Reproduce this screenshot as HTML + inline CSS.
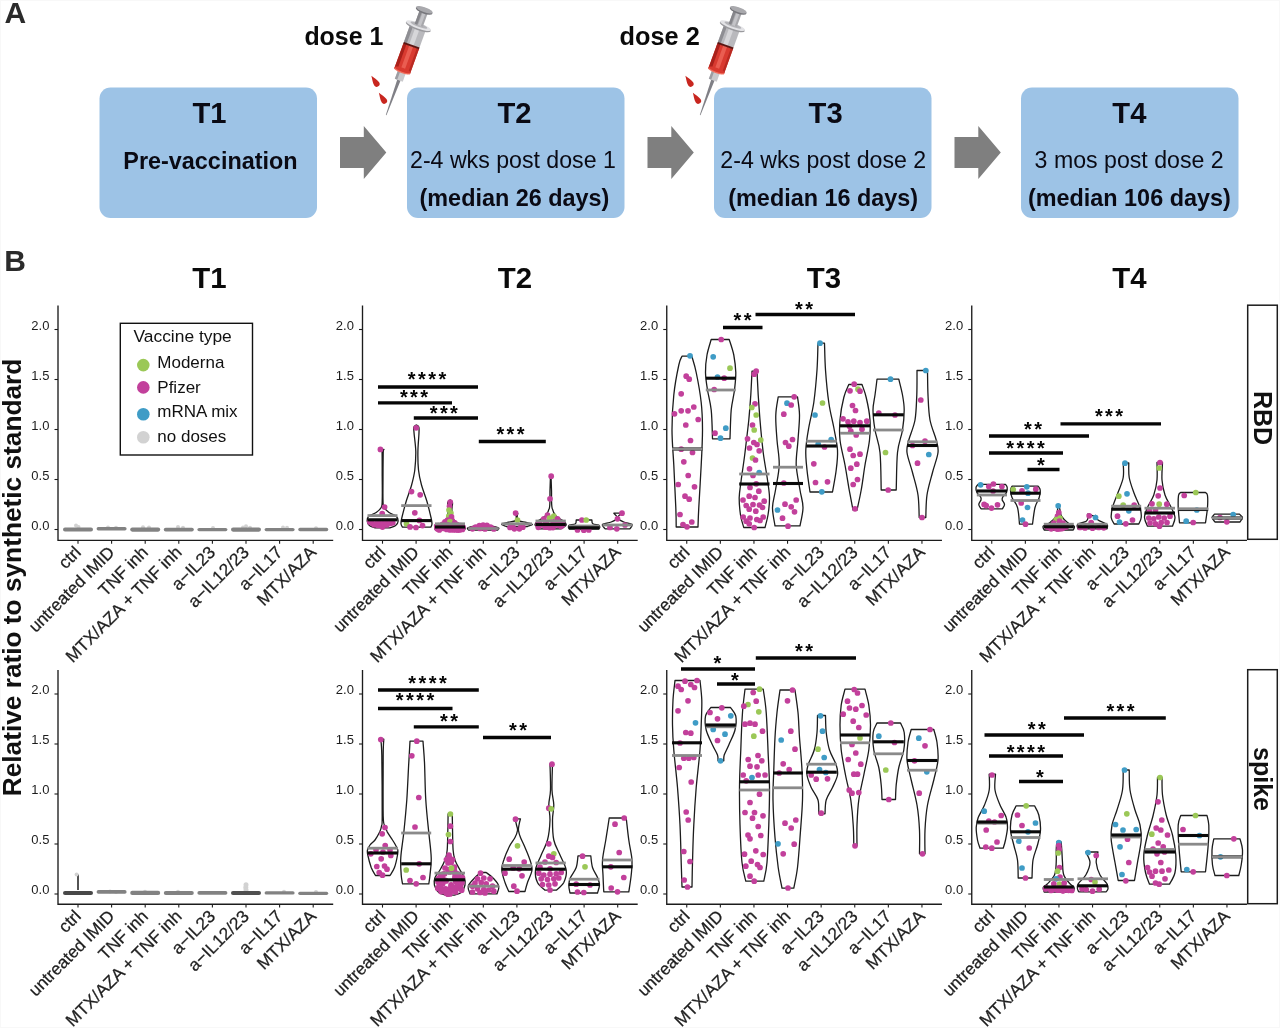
<!DOCTYPE html>
<html lang="en"><head><meta charset="utf-8"><title>Figure</title>
<style>
html,body{margin:0;padding:0;background:#fff;}
body{width:1280px;height:1028px;overflow:hidden;}
svg{display:block;font-family:"Liberation Sans", Arial, Helvetica, sans-serif;}
</style></head><body>
<svg width="1280" height="1028" viewBox="0 0 1280 1028">
<rect width="1280" height="1028" fill="#fff"/>
<rect x="0.5" y="0.5" width="1279" height="1027" fill="none" stroke="#f8f8f8"/>
<g id="panelA">
<text x="4.4" y="23.4" font-size="30" font-weight="bold" fill="#2b2b2b">A</text>
<rect x="99.5" y="87.5" width="217.5" height="130.5" rx="11" ry="11" fill="#9dc3e6"/>
<text x="209.45" y="123" font-size="29.2" font-weight="bold" text-anchor="middle" fill="#0a0a14">T1</text>
<text x="210.45" y="168.5" font-size="23.4" font-weight="bold" text-anchor="middle" fill="#0a0a14">Pre-vaccination</text>
<rect x="407" y="87.5" width="217.5" height="130.5" rx="11" ry="11" fill="#9dc3e6"/>
<text x="514.45" y="123" font-size="29.2" font-weight="bold" text-anchor="middle" fill="#0a0a14">T2</text>
<text x="512.95" y="168.3" font-size="23.15" text-anchor="middle" fill="#0a0a14">2-4 wks post dose 1</text>
<text x="514.45" y="205.5" font-size="23.4" font-weight="bold" text-anchor="middle" fill="#0a0a14">(median 26 days)</text>
<rect x="714" y="87.5" width="217.5" height="130.5" rx="11" ry="11" fill="#9dc3e6"/>
<text x="825.65" y="123" font-size="29.2" font-weight="bold" text-anchor="middle" fill="#0a0a14">T3</text>
<text x="823.25" y="168.3" font-size="23.15" text-anchor="middle" fill="#0a0a14">2-4 wks post dose 2</text>
<text x="823.2" y="205.5" font-size="23.4" font-weight="bold" text-anchor="middle" fill="#0a0a14">(median 16 days)</text>
<rect x="1021" y="87.5" width="217.5" height="130.5" rx="11" ry="11" fill="#9dc3e6"/>
<text x="1129.35" y="123" font-size="29.2" font-weight="bold" text-anchor="middle" fill="#0a0a14">T4</text>
<text x="1129.15" y="168.3" font-size="23.15" text-anchor="middle" fill="#0a0a14">3 mos post dose 2</text>
<text x="1129.35" y="205.5" font-size="23.4" font-weight="bold" text-anchor="middle" fill="#0a0a14">(median 106 days)</text>
<path d="M340,137 h23.8 v-11 l22.5,26.5 l-22.5,26.5 v-11 h-23.8 z" fill="#7f7f7f"/>
<path d="M647.5,137 h23.8 v-11 l22.5,26.5 l-22.5,26.5 v-11 h-23.8 z" fill="#7f7f7f"/>
<path d="M954.5,137 h23.8 v-11 l22.5,26.5 l-22.5,26.5 v-11 h-23.8 z" fill="#7f7f7f"/>
<text x="304.4" y="45" font-size="24.9" font-weight="bold" fill="#0a0a0a">dose 1</text>
<text x="619.6" y="45" font-size="25.3" font-weight="bold" fill="#0a0a0a">dose 2</text>
<g transform="translate(386.3,114.6) rotate(20)"><path d="M-0.35,0.5 L-1.7,-37 L1.7,-37 L0.35,0.5 Z" fill="#808086"/><rect x="-4.2" y="-45" width="8.4" height="8.5" fill="#c9c9cc"/><rect x="-4.2" y="-45" width="2.5" height="8.5" fill="#9d9da2"/><rect x="-8.3" y="-73" width="16.6" height="27" fill="#d93a30"/><rect x="-8.3" y="-73" width="3.2" height="27" fill="#a9211b"/><rect x="-2" y="-73" width="4" height="27" fill="#ef6a5c" opacity="0.75"/><rect x="6" y="-73" width="2.3" height="27" fill="#b92a22"/><ellipse cx="0" cy="-46.5" rx="8.6" ry="2.3" fill="#f0705f"/><ellipse cx="0" cy="-47.6" rx="8.3" ry="1.9" fill="#d93a30"/><rect x="-8.3" y="-93" width="16.6" height="20" fill="#b9b9bd"/><rect x="-8.3" y="-93" width="3.2" height="20" fill="#8e8e93"/><rect x="-2.5" y="-93" width="4.5" height="20" fill="#d6d6d9"/><rect x="-8.3" y="-74.3" width="16.6" height="1.8" fill="#5d1511"/><ellipse cx="0" cy="-93.5" rx="13.2" ry="3.4" fill="#9a9a9e"/><ellipse cx="0" cy="-94.6" rx="13.2" ry="3" fill="#e3e3e6"/><ellipse cx="0" cy="-95.2" rx="9" ry="1.8" fill="#b4b4b8"/><rect x="-4.3" y="-110" width="8.6" height="15" fill="#a8a8ac"/><rect x="-4.3" y="-110" width="2.6" height="15" fill="#86868b"/><rect x="-0.8" y="-110" width="3" height="15" fill="#c4c4c8"/><ellipse cx="0" cy="-110.5" rx="8.8" ry="2.9" fill="#77777c"/><ellipse cx="0" cy="-111.6" rx="8.8" ry="2.5" fill="#a9a9ad"/></g><path transform="translate(374.90000000000003,81.1) rotate(-33)" d="M0,-6.5 C0.9,-3.4 2.9,0 2.9,3.3 A2.9,2.9 0 0 1 -2.9,3.3 C-2.9,0 -0.9,-3.4 0,-6.5 Z" fill="#c8261f"/><path transform="translate(382.40000000000003,98.1) rotate(-33)" d="M0,-6.5 C0.9,-3.4 2.9,0 2.9,3.3 A2.9,2.9 0 0 1 -2.9,3.3 C-2.9,0 -0.9,-3.4 0,-6.5 Z" fill="#c8261f"/>
<g transform="translate(700.3,114.6) rotate(20)"><path d="M-0.35,0.5 L-1.7,-37 L1.7,-37 L0.35,0.5 Z" fill="#808086"/><rect x="-4.2" y="-45" width="8.4" height="8.5" fill="#c9c9cc"/><rect x="-4.2" y="-45" width="2.5" height="8.5" fill="#9d9da2"/><rect x="-8.3" y="-73" width="16.6" height="27" fill="#d93a30"/><rect x="-8.3" y="-73" width="3.2" height="27" fill="#a9211b"/><rect x="-2" y="-73" width="4" height="27" fill="#ef6a5c" opacity="0.75"/><rect x="6" y="-73" width="2.3" height="27" fill="#b92a22"/><ellipse cx="0" cy="-46.5" rx="8.6" ry="2.3" fill="#f0705f"/><ellipse cx="0" cy="-47.6" rx="8.3" ry="1.9" fill="#d93a30"/><rect x="-8.3" y="-93" width="16.6" height="20" fill="#b9b9bd"/><rect x="-8.3" y="-93" width="3.2" height="20" fill="#8e8e93"/><rect x="-2.5" y="-93" width="4.5" height="20" fill="#d6d6d9"/><rect x="-8.3" y="-74.3" width="16.6" height="1.8" fill="#5d1511"/><ellipse cx="0" cy="-93.5" rx="13.2" ry="3.4" fill="#9a9a9e"/><ellipse cx="0" cy="-94.6" rx="13.2" ry="3" fill="#e3e3e6"/><ellipse cx="0" cy="-95.2" rx="9" ry="1.8" fill="#b4b4b8"/><rect x="-4.3" y="-110" width="8.6" height="15" fill="#a8a8ac"/><rect x="-4.3" y="-110" width="2.6" height="15" fill="#86868b"/><rect x="-0.8" y="-110" width="3" height="15" fill="#c4c4c8"/><ellipse cx="0" cy="-110.5" rx="8.8" ry="2.9" fill="#77777c"/><ellipse cx="0" cy="-111.6" rx="8.8" ry="2.5" fill="#a9a9ad"/></g><path transform="translate(688.9,81.1) rotate(-33)" d="M0,-6.5 C0.9,-3.4 2.9,0 2.9,3.3 A2.9,2.9 0 0 1 -2.9,3.3 C-2.9,0 -0.9,-3.4 0,-6.5 Z" fill="#c8261f"/><path transform="translate(696.4,98.1) rotate(-33)" d="M0,-6.5 C0.9,-3.4 2.9,0 2.9,3.3 A2.9,2.9 0 0 1 -2.9,3.3 C-2.9,0 -0.9,-3.4 0,-6.5 Z" fill="#c8261f"/>
</g>
<g id="panelB">
<text x="4.2" y="271.3" font-size="30" font-weight="bold" fill="#2b2b2b">B</text>
<text transform="translate(21,577.5) rotate(-90)" font-size="26.25" font-weight="bold" text-anchor="middle" fill="#111">Relative ratio to synthetic standard</text>
<text x="209.5" y="287.5" font-size="29.4" font-weight="bold" text-anchor="middle" fill="#0a0a0a">T1</text>
<text x="515" y="287.5" font-size="29.4" font-weight="bold" text-anchor="middle" fill="#0a0a0a">T2</text>
<text x="824" y="287.5" font-size="29.4" font-weight="bold" text-anchor="middle" fill="#0a0a0a">T3</text>
<text x="1129.5" y="287.5" font-size="29.4" font-weight="bold" text-anchor="middle" fill="#0a0a0a">T4</text>
<path d="M58,305.5 V540.3 H333.2" fill="none" stroke="#1c1c1c" stroke-width="1.35"/>
<path d="M54.5,529.5 H58" stroke="#1c1c1c" stroke-width="1.1"/>
<text x="49.4" y="530.0" font-size="13" text-anchor="end" fill="#1c1c1c">0.0</text>
<path d="M54.5,479.5 H58" stroke="#1c1c1c" stroke-width="1.1"/>
<text x="49.4" y="480.0" font-size="13" text-anchor="end" fill="#1c1c1c">0.5</text>
<path d="M54.5,429.5 H58" stroke="#1c1c1c" stroke-width="1.1"/>
<text x="49.4" y="430.0" font-size="13" text-anchor="end" fill="#1c1c1c">1.0</text>
<path d="M54.5,379.5 H58" stroke="#1c1c1c" stroke-width="1.1"/>
<text x="49.4" y="380.0" font-size="13" text-anchor="end" fill="#1c1c1c">1.5</text>
<path d="M54.5,329.5 H58" stroke="#1c1c1c" stroke-width="1.1"/>
<text x="49.4" y="330.0" font-size="13" text-anchor="end" fill="#1c1c1c">2.0</text>
<path d="M78.0,540.3 v3.4" stroke="#1c1c1c" stroke-width="1.1"/>
<text transform="translate(82.0,553.4) rotate(-45)" stroke="#1f1f1f" stroke-width="0.25" font-size="17.4" text-anchor="end" fill="#1f1f1f">ctrl</text>
<path d="M111.6,540.3 v3.4" stroke="#1c1c1c" stroke-width="1.1"/>
<text transform="translate(115.6,553.4) rotate(-45)" stroke="#1f1f1f" stroke-width="0.25" font-size="17.1" text-anchor="end" fill="#1f1f1f">untreated IMID</text>
<path d="M145.2,540.3 v3.4" stroke="#1c1c1c" stroke-width="1.1"/>
<text transform="translate(149.2,553.4) rotate(-45)" stroke="#1f1f1f" stroke-width="0.25" font-size="17.4" text-anchor="end" fill="#1f1f1f">TNF inh</text>
<path d="M178.8,540.3 v3.4" stroke="#1c1c1c" stroke-width="1.1"/>
<text transform="translate(182.8,553.4) rotate(-45)" stroke="#1f1f1f" stroke-width="0.25" font-size="17.4" text-anchor="end" fill="#1f1f1f">MTX/AZA + TNF inh</text>
<path d="M212.4,540.3 v3.4" stroke="#1c1c1c" stroke-width="1.1"/>
<text transform="translate(216.4,553.4) rotate(-45)" stroke="#1f1f1f" stroke-width="0.25" font-size="17.4" text-anchor="end" fill="#1f1f1f">a−IL23</text>
<path d="M246.0,540.3 v3.4" stroke="#1c1c1c" stroke-width="1.1"/>
<text transform="translate(250.0,553.4) rotate(-45)" stroke="#1f1f1f" stroke-width="0.25" font-size="17.4" text-anchor="end" fill="#1f1f1f">a−IL12/23</text>
<path d="M279.6,540.3 v3.4" stroke="#1c1c1c" stroke-width="1.1"/>
<text transform="translate(283.6,553.4) rotate(-45)" stroke="#1f1f1f" stroke-width="0.25" font-size="17.4" text-anchor="end" fill="#1f1f1f">a−IL17</text>
<path d="M313.20000000000005,540.3 v3.4" stroke="#1c1c1c" stroke-width="1.1"/>
<text transform="translate(317.20000000000005,553.4) rotate(-45)" stroke="#1f1f1f" stroke-width="0.25" font-size="17.4" text-anchor="end" fill="#1f1f1f">MTX/AZA</text>
<path d="M58,670 V904.2 H333.2" fill="none" stroke="#1c1c1c" stroke-width="1.35"/>
<path d="M54.5,894 H58" stroke="#1c1c1c" stroke-width="1.1"/>
<text x="49.4" y="893.5" font-size="13" text-anchor="end" fill="#1c1c1c">0.0</text>
<path d="M54.5,844 H58" stroke="#1c1c1c" stroke-width="1.1"/>
<text x="49.4" y="843.5" font-size="13" text-anchor="end" fill="#1c1c1c">0.5</text>
<path d="M54.5,794 H58" stroke="#1c1c1c" stroke-width="1.1"/>
<text x="49.4" y="793.5" font-size="13" text-anchor="end" fill="#1c1c1c">1.0</text>
<path d="M54.5,744 H58" stroke="#1c1c1c" stroke-width="1.1"/>
<text x="49.4" y="743.5" font-size="13" text-anchor="end" fill="#1c1c1c">1.5</text>
<path d="M54.5,694 H58" stroke="#1c1c1c" stroke-width="1.1"/>
<text x="49.4" y="693.5" font-size="13" text-anchor="end" fill="#1c1c1c">2.0</text>
<path d="M78.0,904.2 v3.4" stroke="#1c1c1c" stroke-width="1.1"/>
<text transform="translate(82.0,917.3000000000001) rotate(-45)" stroke="#1f1f1f" stroke-width="0.25" font-size="17.4" text-anchor="end" fill="#1f1f1f">ctrl</text>
<path d="M111.6,904.2 v3.4" stroke="#1c1c1c" stroke-width="1.1"/>
<text transform="translate(115.6,917.3000000000001) rotate(-45)" stroke="#1f1f1f" stroke-width="0.25" font-size="17.1" text-anchor="end" fill="#1f1f1f">untreated IMID</text>
<path d="M145.2,904.2 v3.4" stroke="#1c1c1c" stroke-width="1.1"/>
<text transform="translate(149.2,917.3000000000001) rotate(-45)" stroke="#1f1f1f" stroke-width="0.25" font-size="17.4" text-anchor="end" fill="#1f1f1f">TNF inh</text>
<path d="M178.8,904.2 v3.4" stroke="#1c1c1c" stroke-width="1.1"/>
<text transform="translate(182.8,917.3000000000001) rotate(-45)" stroke="#1f1f1f" stroke-width="0.25" font-size="17.4" text-anchor="end" fill="#1f1f1f">MTX/AZA + TNF inh</text>
<path d="M212.4,904.2 v3.4" stroke="#1c1c1c" stroke-width="1.1"/>
<text transform="translate(216.4,917.3000000000001) rotate(-45)" stroke="#1f1f1f" stroke-width="0.25" font-size="17.4" text-anchor="end" fill="#1f1f1f">a−IL23</text>
<path d="M246.0,904.2 v3.4" stroke="#1c1c1c" stroke-width="1.1"/>
<text transform="translate(250.0,917.3000000000001) rotate(-45)" stroke="#1f1f1f" stroke-width="0.25" font-size="17.4" text-anchor="end" fill="#1f1f1f">a−IL12/23</text>
<path d="M279.6,904.2 v3.4" stroke="#1c1c1c" stroke-width="1.1"/>
<text transform="translate(283.6,917.3000000000001) rotate(-45)" stroke="#1f1f1f" stroke-width="0.25" font-size="17.4" text-anchor="end" fill="#1f1f1f">a−IL17</text>
<path d="M313.20000000000005,904.2 v3.4" stroke="#1c1c1c" stroke-width="1.1"/>
<text transform="translate(317.20000000000005,917.3000000000001) rotate(-45)" stroke="#1f1f1f" stroke-width="0.25" font-size="17.4" text-anchor="end" fill="#1f1f1f">MTX/AZA</text>
<path d="M362.5,305.5 V540.3 H637.7" fill="none" stroke="#1c1c1c" stroke-width="1.35"/>
<path d="M359.0,529.5 H362.5" stroke="#1c1c1c" stroke-width="1.1"/>
<text x="353.9" y="530.0" font-size="13" text-anchor="end" fill="#1c1c1c">0.0</text>
<path d="M359.0,479.5 H362.5" stroke="#1c1c1c" stroke-width="1.1"/>
<text x="353.9" y="480.0" font-size="13" text-anchor="end" fill="#1c1c1c">0.5</text>
<path d="M359.0,429.5 H362.5" stroke="#1c1c1c" stroke-width="1.1"/>
<text x="353.9" y="430.0" font-size="13" text-anchor="end" fill="#1c1c1c">1.0</text>
<path d="M359.0,379.5 H362.5" stroke="#1c1c1c" stroke-width="1.1"/>
<text x="353.9" y="380.0" font-size="13" text-anchor="end" fill="#1c1c1c">1.5</text>
<path d="M359.0,329.5 H362.5" stroke="#1c1c1c" stroke-width="1.1"/>
<text x="353.9" y="330.0" font-size="13" text-anchor="end" fill="#1c1c1c">2.0</text>
<path d="M382.5,540.3 v3.4" stroke="#1c1c1c" stroke-width="1.1"/>
<text transform="translate(386.5,553.4) rotate(-45)" stroke="#1f1f1f" stroke-width="0.25" font-size="17.4" text-anchor="end" fill="#1f1f1f">ctrl</text>
<path d="M416.1,540.3 v3.4" stroke="#1c1c1c" stroke-width="1.1"/>
<text transform="translate(420.1,553.4) rotate(-45)" stroke="#1f1f1f" stroke-width="0.25" font-size="17.1" text-anchor="end" fill="#1f1f1f">untreated IMID</text>
<path d="M449.7,540.3 v3.4" stroke="#1c1c1c" stroke-width="1.1"/>
<text transform="translate(453.7,553.4) rotate(-45)" stroke="#1f1f1f" stroke-width="0.25" font-size="17.4" text-anchor="end" fill="#1f1f1f">TNF inh</text>
<path d="M483.3,540.3 v3.4" stroke="#1c1c1c" stroke-width="1.1"/>
<text transform="translate(487.3,553.4) rotate(-45)" stroke="#1f1f1f" stroke-width="0.25" font-size="17.4" text-anchor="end" fill="#1f1f1f">MTX/AZA + TNF inh</text>
<path d="M516.9,540.3 v3.4" stroke="#1c1c1c" stroke-width="1.1"/>
<text transform="translate(520.9,553.4) rotate(-45)" stroke="#1f1f1f" stroke-width="0.25" font-size="17.4" text-anchor="end" fill="#1f1f1f">a−IL23</text>
<path d="M550.5,540.3 v3.4" stroke="#1c1c1c" stroke-width="1.1"/>
<text transform="translate(554.5,553.4) rotate(-45)" stroke="#1f1f1f" stroke-width="0.25" font-size="17.4" text-anchor="end" fill="#1f1f1f">a−IL12/23</text>
<path d="M584.1,540.3 v3.4" stroke="#1c1c1c" stroke-width="1.1"/>
<text transform="translate(588.1,553.4) rotate(-45)" stroke="#1f1f1f" stroke-width="0.25" font-size="17.4" text-anchor="end" fill="#1f1f1f">a−IL17</text>
<path d="M617.7,540.3 v3.4" stroke="#1c1c1c" stroke-width="1.1"/>
<text transform="translate(621.7,553.4) rotate(-45)" stroke="#1f1f1f" stroke-width="0.25" font-size="17.4" text-anchor="end" fill="#1f1f1f">MTX/AZA</text>
<path d="M362.5,670 V904.2 H637.7" fill="none" stroke="#1c1c1c" stroke-width="1.35"/>
<path d="M359.0,894 H362.5" stroke="#1c1c1c" stroke-width="1.1"/>
<text x="353.9" y="893.5" font-size="13" text-anchor="end" fill="#1c1c1c">0.0</text>
<path d="M359.0,844 H362.5" stroke="#1c1c1c" stroke-width="1.1"/>
<text x="353.9" y="843.5" font-size="13" text-anchor="end" fill="#1c1c1c">0.5</text>
<path d="M359.0,794 H362.5" stroke="#1c1c1c" stroke-width="1.1"/>
<text x="353.9" y="793.5" font-size="13" text-anchor="end" fill="#1c1c1c">1.0</text>
<path d="M359.0,744 H362.5" stroke="#1c1c1c" stroke-width="1.1"/>
<text x="353.9" y="743.5" font-size="13" text-anchor="end" fill="#1c1c1c">1.5</text>
<path d="M359.0,694 H362.5" stroke="#1c1c1c" stroke-width="1.1"/>
<text x="353.9" y="693.5" font-size="13" text-anchor="end" fill="#1c1c1c">2.0</text>
<path d="M382.5,904.2 v3.4" stroke="#1c1c1c" stroke-width="1.1"/>
<text transform="translate(386.5,917.3000000000001) rotate(-45)" stroke="#1f1f1f" stroke-width="0.25" font-size="17.4" text-anchor="end" fill="#1f1f1f">ctrl</text>
<path d="M416.1,904.2 v3.4" stroke="#1c1c1c" stroke-width="1.1"/>
<text transform="translate(420.1,917.3000000000001) rotate(-45)" stroke="#1f1f1f" stroke-width="0.25" font-size="17.1" text-anchor="end" fill="#1f1f1f">untreated IMID</text>
<path d="M449.7,904.2 v3.4" stroke="#1c1c1c" stroke-width="1.1"/>
<text transform="translate(453.7,917.3000000000001) rotate(-45)" stroke="#1f1f1f" stroke-width="0.25" font-size="17.4" text-anchor="end" fill="#1f1f1f">TNF inh</text>
<path d="M483.3,904.2 v3.4" stroke="#1c1c1c" stroke-width="1.1"/>
<text transform="translate(487.3,917.3000000000001) rotate(-45)" stroke="#1f1f1f" stroke-width="0.25" font-size="17.4" text-anchor="end" fill="#1f1f1f">MTX/AZA + TNF inh</text>
<path d="M516.9,904.2 v3.4" stroke="#1c1c1c" stroke-width="1.1"/>
<text transform="translate(520.9,917.3000000000001) rotate(-45)" stroke="#1f1f1f" stroke-width="0.25" font-size="17.4" text-anchor="end" fill="#1f1f1f">a−IL23</text>
<path d="M550.5,904.2 v3.4" stroke="#1c1c1c" stroke-width="1.1"/>
<text transform="translate(554.5,917.3000000000001) rotate(-45)" stroke="#1f1f1f" stroke-width="0.25" font-size="17.4" text-anchor="end" fill="#1f1f1f">a−IL12/23</text>
<path d="M584.1,904.2 v3.4" stroke="#1c1c1c" stroke-width="1.1"/>
<text transform="translate(588.1,917.3000000000001) rotate(-45)" stroke="#1f1f1f" stroke-width="0.25" font-size="17.4" text-anchor="end" fill="#1f1f1f">a−IL17</text>
<path d="M617.7,904.2 v3.4" stroke="#1c1c1c" stroke-width="1.1"/>
<text transform="translate(621.7,917.3000000000001) rotate(-45)" stroke="#1f1f1f" stroke-width="0.25" font-size="17.4" text-anchor="end" fill="#1f1f1f">MTX/AZA</text>
<path d="M666.75,305.5 V540.3 H941.95" fill="none" stroke="#1c1c1c" stroke-width="1.35"/>
<path d="M663.25,529.5 H666.75" stroke="#1c1c1c" stroke-width="1.1"/>
<text x="658.15" y="530.0" font-size="13" text-anchor="end" fill="#1c1c1c">0.0</text>
<path d="M663.25,479.5 H666.75" stroke="#1c1c1c" stroke-width="1.1"/>
<text x="658.15" y="480.0" font-size="13" text-anchor="end" fill="#1c1c1c">0.5</text>
<path d="M663.25,429.5 H666.75" stroke="#1c1c1c" stroke-width="1.1"/>
<text x="658.15" y="430.0" font-size="13" text-anchor="end" fill="#1c1c1c">1.0</text>
<path d="M663.25,379.5 H666.75" stroke="#1c1c1c" stroke-width="1.1"/>
<text x="658.15" y="380.0" font-size="13" text-anchor="end" fill="#1c1c1c">1.5</text>
<path d="M663.25,329.5 H666.75" stroke="#1c1c1c" stroke-width="1.1"/>
<text x="658.15" y="330.0" font-size="13" text-anchor="end" fill="#1c1c1c">2.0</text>
<path d="M686.75,540.3 v3.4" stroke="#1c1c1c" stroke-width="1.1"/>
<text transform="translate(690.75,553.4) rotate(-45)" stroke="#1f1f1f" stroke-width="0.25" font-size="17.4" text-anchor="end" fill="#1f1f1f">ctrl</text>
<path d="M720.35,540.3 v3.4" stroke="#1c1c1c" stroke-width="1.1"/>
<text transform="translate(724.35,553.4) rotate(-45)" stroke="#1f1f1f" stroke-width="0.25" font-size="17.1" text-anchor="end" fill="#1f1f1f">untreated IMID</text>
<path d="M753.95,540.3 v3.4" stroke="#1c1c1c" stroke-width="1.1"/>
<text transform="translate(757.95,553.4) rotate(-45)" stroke="#1f1f1f" stroke-width="0.25" font-size="17.4" text-anchor="end" fill="#1f1f1f">TNF inh</text>
<path d="M787.55,540.3 v3.4" stroke="#1c1c1c" stroke-width="1.1"/>
<text transform="translate(791.55,553.4) rotate(-45)" stroke="#1f1f1f" stroke-width="0.25" font-size="17.4" text-anchor="end" fill="#1f1f1f">MTX/AZA + TNF inh</text>
<path d="M821.15,540.3 v3.4" stroke="#1c1c1c" stroke-width="1.1"/>
<text transform="translate(825.15,553.4) rotate(-45)" stroke="#1f1f1f" stroke-width="0.25" font-size="17.4" text-anchor="end" fill="#1f1f1f">a−IL23</text>
<path d="M854.75,540.3 v3.4" stroke="#1c1c1c" stroke-width="1.1"/>
<text transform="translate(858.75,553.4) rotate(-45)" stroke="#1f1f1f" stroke-width="0.25" font-size="17.4" text-anchor="end" fill="#1f1f1f">a−IL12/23</text>
<path d="M888.35,540.3 v3.4" stroke="#1c1c1c" stroke-width="1.1"/>
<text transform="translate(892.35,553.4) rotate(-45)" stroke="#1f1f1f" stroke-width="0.25" font-size="17.4" text-anchor="end" fill="#1f1f1f">a−IL17</text>
<path d="M921.95,540.3 v3.4" stroke="#1c1c1c" stroke-width="1.1"/>
<text transform="translate(925.95,553.4) rotate(-45)" stroke="#1f1f1f" stroke-width="0.25" font-size="17.4" text-anchor="end" fill="#1f1f1f">MTX/AZA</text>
<path d="M666.75,670 V904.2 H941.95" fill="none" stroke="#1c1c1c" stroke-width="1.35"/>
<path d="M663.25,894 H666.75" stroke="#1c1c1c" stroke-width="1.1"/>
<text x="658.15" y="893.5" font-size="13" text-anchor="end" fill="#1c1c1c">0.0</text>
<path d="M663.25,844 H666.75" stroke="#1c1c1c" stroke-width="1.1"/>
<text x="658.15" y="843.5" font-size="13" text-anchor="end" fill="#1c1c1c">0.5</text>
<path d="M663.25,794 H666.75" stroke="#1c1c1c" stroke-width="1.1"/>
<text x="658.15" y="793.5" font-size="13" text-anchor="end" fill="#1c1c1c">1.0</text>
<path d="M663.25,744 H666.75" stroke="#1c1c1c" stroke-width="1.1"/>
<text x="658.15" y="743.5" font-size="13" text-anchor="end" fill="#1c1c1c">1.5</text>
<path d="M663.25,694 H666.75" stroke="#1c1c1c" stroke-width="1.1"/>
<text x="658.15" y="693.5" font-size="13" text-anchor="end" fill="#1c1c1c">2.0</text>
<path d="M686.75,904.2 v3.4" stroke="#1c1c1c" stroke-width="1.1"/>
<text transform="translate(690.75,917.3000000000001) rotate(-45)" stroke="#1f1f1f" stroke-width="0.25" font-size="17.4" text-anchor="end" fill="#1f1f1f">ctrl</text>
<path d="M720.35,904.2 v3.4" stroke="#1c1c1c" stroke-width="1.1"/>
<text transform="translate(724.35,917.3000000000001) rotate(-45)" stroke="#1f1f1f" stroke-width="0.25" font-size="17.1" text-anchor="end" fill="#1f1f1f">untreated IMID</text>
<path d="M753.95,904.2 v3.4" stroke="#1c1c1c" stroke-width="1.1"/>
<text transform="translate(757.95,917.3000000000001) rotate(-45)" stroke="#1f1f1f" stroke-width="0.25" font-size="17.4" text-anchor="end" fill="#1f1f1f">TNF inh</text>
<path d="M787.55,904.2 v3.4" stroke="#1c1c1c" stroke-width="1.1"/>
<text transform="translate(791.55,917.3000000000001) rotate(-45)" stroke="#1f1f1f" stroke-width="0.25" font-size="17.4" text-anchor="end" fill="#1f1f1f">MTX/AZA + TNF inh</text>
<path d="M821.15,904.2 v3.4" stroke="#1c1c1c" stroke-width="1.1"/>
<text transform="translate(825.15,917.3000000000001) rotate(-45)" stroke="#1f1f1f" stroke-width="0.25" font-size="17.4" text-anchor="end" fill="#1f1f1f">a−IL23</text>
<path d="M854.75,904.2 v3.4" stroke="#1c1c1c" stroke-width="1.1"/>
<text transform="translate(858.75,917.3000000000001) rotate(-45)" stroke="#1f1f1f" stroke-width="0.25" font-size="17.4" text-anchor="end" fill="#1f1f1f">a−IL12/23</text>
<path d="M888.35,904.2 v3.4" stroke="#1c1c1c" stroke-width="1.1"/>
<text transform="translate(892.35,917.3000000000001) rotate(-45)" stroke="#1f1f1f" stroke-width="0.25" font-size="17.4" text-anchor="end" fill="#1f1f1f">a−IL17</text>
<path d="M921.95,904.2 v3.4" stroke="#1c1c1c" stroke-width="1.1"/>
<text transform="translate(925.95,917.3000000000001) rotate(-45)" stroke="#1f1f1f" stroke-width="0.25" font-size="17.4" text-anchor="end" fill="#1f1f1f">MTX/AZA</text>
<path d="M971.75,305.5 V540.3 H1246.95" fill="none" stroke="#1c1c1c" stroke-width="1.35"/>
<path d="M968.25,529.5 H971.75" stroke="#1c1c1c" stroke-width="1.1"/>
<text x="963.15" y="530.0" font-size="13" text-anchor="end" fill="#1c1c1c">0.0</text>
<path d="M968.25,479.5 H971.75" stroke="#1c1c1c" stroke-width="1.1"/>
<text x="963.15" y="480.0" font-size="13" text-anchor="end" fill="#1c1c1c">0.5</text>
<path d="M968.25,429.5 H971.75" stroke="#1c1c1c" stroke-width="1.1"/>
<text x="963.15" y="430.0" font-size="13" text-anchor="end" fill="#1c1c1c">1.0</text>
<path d="M968.25,379.5 H971.75" stroke="#1c1c1c" stroke-width="1.1"/>
<text x="963.15" y="380.0" font-size="13" text-anchor="end" fill="#1c1c1c">1.5</text>
<path d="M968.25,329.5 H971.75" stroke="#1c1c1c" stroke-width="1.1"/>
<text x="963.15" y="330.0" font-size="13" text-anchor="end" fill="#1c1c1c">2.0</text>
<path d="M991.75,540.3 v3.4" stroke="#1c1c1c" stroke-width="1.1"/>
<text transform="translate(995.75,553.4) rotate(-45)" stroke="#1f1f1f" stroke-width="0.25" font-size="17.4" text-anchor="end" fill="#1f1f1f">ctrl</text>
<path d="M1025.35,540.3 v3.4" stroke="#1c1c1c" stroke-width="1.1"/>
<text transform="translate(1029.35,553.4) rotate(-45)" stroke="#1f1f1f" stroke-width="0.25" font-size="17.1" text-anchor="end" fill="#1f1f1f">untreated IMID</text>
<path d="M1058.95,540.3 v3.4" stroke="#1c1c1c" stroke-width="1.1"/>
<text transform="translate(1062.95,553.4) rotate(-45)" stroke="#1f1f1f" stroke-width="0.25" font-size="17.4" text-anchor="end" fill="#1f1f1f">TNF inh</text>
<path d="M1092.55,540.3 v3.4" stroke="#1c1c1c" stroke-width="1.1"/>
<text transform="translate(1096.55,553.4) rotate(-45)" stroke="#1f1f1f" stroke-width="0.25" font-size="17.4" text-anchor="end" fill="#1f1f1f">MTX/AZA + TNF inh</text>
<path d="M1126.15,540.3 v3.4" stroke="#1c1c1c" stroke-width="1.1"/>
<text transform="translate(1130.15,553.4) rotate(-45)" stroke="#1f1f1f" stroke-width="0.25" font-size="17.4" text-anchor="end" fill="#1f1f1f">a−IL23</text>
<path d="M1159.75,540.3 v3.4" stroke="#1c1c1c" stroke-width="1.1"/>
<text transform="translate(1163.75,553.4) rotate(-45)" stroke="#1f1f1f" stroke-width="0.25" font-size="17.4" text-anchor="end" fill="#1f1f1f">a−IL12/23</text>
<path d="M1193.35,540.3 v3.4" stroke="#1c1c1c" stroke-width="1.1"/>
<text transform="translate(1197.35,553.4) rotate(-45)" stroke="#1f1f1f" stroke-width="0.25" font-size="17.4" text-anchor="end" fill="#1f1f1f">a−IL17</text>
<path d="M1226.95,540.3 v3.4" stroke="#1c1c1c" stroke-width="1.1"/>
<text transform="translate(1230.95,553.4) rotate(-45)" stroke="#1f1f1f" stroke-width="0.25" font-size="17.4" text-anchor="end" fill="#1f1f1f">MTX/AZA</text>
<path d="M971.75,670 V904.2 H1246.95" fill="none" stroke="#1c1c1c" stroke-width="1.35"/>
<path d="M968.25,894 H971.75" stroke="#1c1c1c" stroke-width="1.1"/>
<text x="963.15" y="893.5" font-size="13" text-anchor="end" fill="#1c1c1c">0.0</text>
<path d="M968.25,844 H971.75" stroke="#1c1c1c" stroke-width="1.1"/>
<text x="963.15" y="843.5" font-size="13" text-anchor="end" fill="#1c1c1c">0.5</text>
<path d="M968.25,794 H971.75" stroke="#1c1c1c" stroke-width="1.1"/>
<text x="963.15" y="793.5" font-size="13" text-anchor="end" fill="#1c1c1c">1.0</text>
<path d="M968.25,744 H971.75" stroke="#1c1c1c" stroke-width="1.1"/>
<text x="963.15" y="743.5" font-size="13" text-anchor="end" fill="#1c1c1c">1.5</text>
<path d="M968.25,694 H971.75" stroke="#1c1c1c" stroke-width="1.1"/>
<text x="963.15" y="693.5" font-size="13" text-anchor="end" fill="#1c1c1c">2.0</text>
<path d="M991.75,904.2 v3.4" stroke="#1c1c1c" stroke-width="1.1"/>
<text transform="translate(995.75,917.3000000000001) rotate(-45)" stroke="#1f1f1f" stroke-width="0.25" font-size="17.4" text-anchor="end" fill="#1f1f1f">ctrl</text>
<path d="M1025.35,904.2 v3.4" stroke="#1c1c1c" stroke-width="1.1"/>
<text transform="translate(1029.35,917.3000000000001) rotate(-45)" stroke="#1f1f1f" stroke-width="0.25" font-size="17.1" text-anchor="end" fill="#1f1f1f">untreated IMID</text>
<path d="M1058.95,904.2 v3.4" stroke="#1c1c1c" stroke-width="1.1"/>
<text transform="translate(1062.95,917.3000000000001) rotate(-45)" stroke="#1f1f1f" stroke-width="0.25" font-size="17.4" text-anchor="end" fill="#1f1f1f">TNF inh</text>
<path d="M1092.55,904.2 v3.4" stroke="#1c1c1c" stroke-width="1.1"/>
<text transform="translate(1096.55,917.3000000000001) rotate(-45)" stroke="#1f1f1f" stroke-width="0.25" font-size="17.4" text-anchor="end" fill="#1f1f1f">MTX/AZA + TNF inh</text>
<path d="M1126.15,904.2 v3.4" stroke="#1c1c1c" stroke-width="1.1"/>
<text transform="translate(1130.15,917.3000000000001) rotate(-45)" stroke="#1f1f1f" stroke-width="0.25" font-size="17.4" text-anchor="end" fill="#1f1f1f">a−IL23</text>
<path d="M1159.75,904.2 v3.4" stroke="#1c1c1c" stroke-width="1.1"/>
<text transform="translate(1163.75,917.3000000000001) rotate(-45)" stroke="#1f1f1f" stroke-width="0.25" font-size="17.4" text-anchor="end" fill="#1f1f1f">a−IL12/23</text>
<path d="M1193.35,904.2 v3.4" stroke="#1c1c1c" stroke-width="1.1"/>
<text transform="translate(1197.35,917.3000000000001) rotate(-45)" stroke="#1f1f1f" stroke-width="0.25" font-size="17.4" text-anchor="end" fill="#1f1f1f">a−IL17</text>
<path d="M1226.95,904.2 v3.4" stroke="#1c1c1c" stroke-width="1.1"/>
<text transform="translate(1230.95,917.3000000000001) rotate(-45)" stroke="#1f1f1f" stroke-width="0.25" font-size="17.4" text-anchor="end" fill="#1f1f1f">MTX/AZA</text>
<rect x="1247.7" y="305.2" width="29.6" height="234.09999999999997" fill="#fff" stroke="#1c1c1c" stroke-width="1.5"/>
<text transform="translate(1254.2,418) rotate(90)" font-size="25" font-weight="bold" text-anchor="middle" fill="#111">RBD</text>
<rect x="1247.7" y="669.7" width="29.6" height="234.0" fill="#fff" stroke="#1c1c1c" stroke-width="1.5"/>
<text transform="translate(1254.2,779) rotate(90)" font-size="25" font-weight="bold" text-anchor="middle" fill="#111">spike</text>
<rect x="120.3" y="323.3" width="132.2" height="131.7" fill="#fff" stroke="#111" stroke-width="1.4"/>
<text x="133.5" y="342.2" font-size="17.4" fill="#111">Vaccine type</text>
<circle cx="143.3" cy="365.1" r="6.3" fill="#9bc857"/>
<text x="157.3" y="368.3" font-size="17" fill="#111">Moderna</text>
<circle cx="143.3" cy="387.4" r="6.3" fill="#c2409b"/>
<text x="157.3" y="392.7" font-size="17" fill="#111">Pfizer</text>
<circle cx="143.3" cy="414.3" r="6.3" fill="#3f9cc6"/>
<text x="157.3" y="417.1" font-size="17" fill="#111">mRNA mix</text>
<circle cx="143.3" cy="437.3" r="6.3" fill="#d2d2d2"/>
<text x="157.3" y="441.5" font-size="17" fill="#111">no doses</text>
<g id="t1rbd">
<circle cx="76.0" cy="525.5" r="2.0" fill="#d2d2d2"/>
<circle cx="78.5" cy="527.0" r="2.0" fill="#d2d2d2"/>
<path d="M65.0,529.6 H91.0" stroke="#828282" stroke-width="4.0" stroke-linecap="round"/>
<circle cx="108.0" cy="527.5" r="2.0" fill="#d2d2d2"/>
<circle cx="116.0" cy="527.8" r="2.0" fill="#d2d2d2"/>
<path d="M98.3,528.8 H124.9" stroke="#828282" stroke-width="3.4" stroke-linecap="round"/>
<circle cx="143.0" cy="527.3" r="2.0" fill="#d2d2d2"/>
<circle cx="149.0" cy="527.5" r="2.0" fill="#d2d2d2"/>
<path d="M132.3,529.6 H158.1" stroke="#828282" stroke-width="4.2" stroke-linecap="round"/>
<circle cx="178.0" cy="527.0" r="2.0" fill="#d2d2d2"/>
<circle cx="183.0" cy="527.8" r="2.0" fill="#d2d2d2"/>
<path d="M165.7,529.6 H191.9" stroke="#828282" stroke-width="3.8000000000000003" stroke-linecap="round"/>
<circle cx="213.0" cy="528.0" r="2.0" fill="#d2d2d2"/>
<path d="M199.1,529.6 H225.7" stroke="#828282" stroke-width="3.4" stroke-linecap="round"/>
<circle cx="246.0" cy="526.2" r="2.0" fill="#d2d2d2"/>
<circle cx="243.0" cy="527.6" r="2.0" fill="#d2d2d2"/>
<circle cx="250.0" cy="527.8" r="2.0" fill="#d2d2d2"/>
<path d="M233.1,529.6 H258.9" stroke="#828282" stroke-width="4.2" stroke-linecap="round"/>
<circle cx="283.0" cy="527.6" r="2.0" fill="#d2d2d2"/>
<circle cx="287.0" cy="527.8" r="2.0" fill="#d2d2d2"/>
<path d="M266.3,529.6 H292.9" stroke="#828282" stroke-width="3.4" stroke-linecap="round"/>
<circle cx="316.0" cy="528.2" r="2.0" fill="#d2d2d2"/>
<path d="M300.0,529.6 H326.5" stroke="#828282" stroke-width="3.5" stroke-linecap="round"/>
</g>
<g id="t2rbd_a">
<path d="M384.0,449.4C383.9,449.9 383.4,448.0 383.2,452.5C383.1,457.0 383.0,468.1 383.0,476.2C383.0,484.4 382.8,496.0 383.0,501.2C383.2,506.5 383.0,505.6 384.0,507.5C385.0,509.4 387.0,511.0 389.0,512.5C391.0,514.0 394.7,514.8 396.2,516.2C397.8,517.7 398.2,519.7 398.1,521.2C398.0,522.8 397.0,524.5 395.6,525.6C394.3,526.7 390.9,527.4 390.0,527.8L375.0,527.8C374.1,527.4 370.7,526.7 369.4,525.6C368.1,524.5 367.4,522.8 367.2,521.2C367.1,519.7 367.2,517.7 368.8,516.2C370.2,514.8 374.2,514.0 376.2,512.5C378.3,511.0 380.2,509.4 381.2,507.5C382.2,505.6 382.1,506.5 382.2,501.2C382.4,496.0 382.3,484.4 382.2,476.2C382.2,468.1 382.2,457.0 382.1,452.5C382.0,448.0 381.6,449.9 381.5,449.4Z" fill="#fff" stroke="#1c1c1c" stroke-width="1.3" stroke-linejoin="round"/>
<circle cx="380.4" cy="449.4" r="2.85" fill="#c2409b"/>
<circle cx="384.6" cy="507.1" r="2.85" fill="#c2409b"/>
<circle cx="382.2" cy="513.5" r="2.85" fill="#c2409b"/>
<circle cx="371.9" cy="523.1" r="2.85" fill="#c2409b"/>
<circle cx="375.6" cy="523.8" r="2.85" fill="#c2409b"/>
<circle cx="378.8" cy="522.8" r="2.85" fill="#c2409b"/>
<circle cx="382.8" cy="523.5" r="2.85" fill="#c2409b"/>
<circle cx="386.5" cy="523.1" r="2.85" fill="#c2409b"/>
<circle cx="390.2" cy="523.5" r="2.85" fill="#c2409b"/>
<circle cx="374.0" cy="524.8" r="2.85" fill="#c2409b"/>
<circle cx="378.2" cy="525.4" r="2.85" fill="#c2409b"/>
<circle cx="382.5" cy="527.1" r="2.85" fill="#c2409b"/>
<circle cx="386.8" cy="525.0" r="2.85" fill="#c2409b"/>
<circle cx="392.8" cy="522.8" r="2.85" fill="#c2409b"/>
<circle cx="369.8" cy="521.9" r="2.85" fill="#c2409b"/>
<path d="M367.5,515.6 H397.5" stroke="#8a8a8a" stroke-width="2.8"/>
<path d="M367.5,519.8 H397.5" stroke="#0a0a0a" stroke-width="3.1"/>
<path d="M416.2,425.0C416.7,425.3 418.3,425.6 418.8,426.9C419.2,428.1 419.1,428.4 419.0,432.5C418.9,436.6 418.0,445.0 417.9,451.2C417.8,457.5 417.9,464.4 418.5,470.0C419.1,475.6 420.1,479.8 421.5,485.0C422.9,490.2 425.3,495.8 426.9,501.2C428.5,506.7 430.1,513.8 431.0,517.5C431.9,521.2 432.0,522.1 432.0,523.8C432.0,525.4 431.0,526.7 430.8,527.2L402.5,527.2C402.2,526.7 401.1,525.4 401.0,523.8C400.9,522.1 401.0,521.2 401.9,517.5C402.8,513.8 404.6,506.7 406.2,501.2C407.9,495.8 410.2,490.2 411.6,485.0C413.0,479.8 414.1,475.6 414.8,470.0C415.4,464.4 415.9,457.5 415.8,451.2C415.6,445.0 414.3,436.6 414.0,432.5C413.7,428.4 413.5,428.1 413.9,426.9C414.2,425.6 415.9,425.3 416.2,425.0Z" fill="#fff" stroke="#1c1c1c" stroke-width="1.3" stroke-linejoin="round"/>
<circle cx="416.2" cy="427.8" r="2.85" fill="#c2409b"/>
<circle cx="411.5" cy="491.6" r="2.85" fill="#c2409b"/>
<circle cx="420.2" cy="494.8" r="2.85" fill="#c2409b"/>
<circle cx="414.8" cy="512.8" r="2.85" fill="#c2409b"/>
<circle cx="419.4" cy="520.4" r="2.85" fill="#c2409b"/>
<circle cx="406.5" cy="523.8" r="2.85" fill="#9bc857"/>
<circle cx="410.0" cy="526.9" r="2.85" fill="#c2409b"/>
<circle cx="416.0" cy="527.5" r="2.85" fill="#c2409b"/>
<circle cx="422.5" cy="525.6" r="2.85" fill="#c2409b"/>
<path d="M401.2,505.6 H431.5" stroke="#8a8a8a" stroke-width="2.8"/>
<path d="M401.2,520.6 H431.5" stroke="#0a0a0a" stroke-width="3.1"/>
<path d="M450.2,500.0C450.6,500.4 452.2,500.8 452.5,502.5C452.8,504.2 451.8,507.3 451.9,510.0C452.0,512.7 451.8,516.4 453.1,518.8C454.5,521.1 458.0,523.0 460.0,524.4C462.0,525.8 464.5,526.3 465.2,527.2C466.0,528.2 464.5,529.8 464.4,530.2L435.6,530.2C435.5,529.8 434.0,528.2 434.8,527.2C435.5,526.3 438.0,525.8 440.0,524.4C442.0,523.0 445.5,521.1 446.9,518.8C448.2,516.4 448.0,512.7 448.1,510.0C448.3,507.3 447.4,504.2 447.8,502.5C448.1,500.8 449.8,500.4 450.2,500.0Z" fill="#fff" stroke="#1c1c1c" stroke-width="1.3" stroke-linejoin="round"/>
<circle cx="450.2" cy="502.1" r="2.85" fill="#c2409b"/>
<circle cx="449.5" cy="506.2" r="2.85" fill="#c2409b"/>
<circle cx="449.0" cy="510.0" r="2.85" fill="#9bc857"/>
<circle cx="450.9" cy="513.1" r="2.85" fill="#9bc857"/>
<circle cx="448.8" cy="516.2" r="2.85" fill="#9bc857"/>
<circle cx="451.5" cy="516.9" r="2.85" fill="#c2409b"/>
<circle cx="447.5" cy="520.0" r="2.85" fill="#c2409b"/>
<circle cx="452.2" cy="520.6" r="2.85" fill="#c2409b"/>
<circle cx="445.0" cy="521.9" r="2.85" fill="#c2409b"/>
<circle cx="450.0" cy="521.5" r="2.85" fill="#9bc857"/>
<circle cx="454.8" cy="522.8" r="2.85" fill="#c2409b"/>
<circle cx="442.5" cy="524.4" r="2.85" fill="#c2409b"/>
<circle cx="447.5" cy="524.8" r="2.85" fill="#c2409b"/>
<circle cx="457.5" cy="524.8" r="2.85" fill="#c2409b"/>
<circle cx="442.9" cy="528.0" r="2.85" fill="#c2409b"/>
<circle cx="461.2" cy="527.7" r="2.85" fill="#9bc857"/>
<circle cx="438.3" cy="525.7" r="2.85" fill="#c2409b"/>
<circle cx="443.5" cy="526.7" r="2.85" fill="#c2409b"/>
<circle cx="451.1" cy="528.0" r="2.85" fill="#c2409b"/>
<circle cx="453.8" cy="526.3" r="2.85" fill="#c2409b"/>
<circle cx="459.9" cy="527.9" r="2.85" fill="#c2409b"/>
<circle cx="454.6" cy="525.9" r="2.85" fill="#9bc857"/>
<circle cx="437.7" cy="529.0" r="2.85" fill="#c2409b"/>
<circle cx="449.3" cy="528.8" r="2.85" fill="#c2409b"/>
<circle cx="455.8" cy="529.7" r="2.85" fill="#c2409b"/>
<circle cx="456.2" cy="528.1" r="2.85" fill="#c2409b"/>
<circle cx="460.2" cy="526.1" r="2.85" fill="#c2409b"/>
<circle cx="449.9" cy="526.8" r="2.85" fill="#c2409b"/>
<circle cx="457.5" cy="529.4" r="2.85" fill="#c2409b"/>
<circle cx="450.2" cy="527.3" r="2.85" fill="#c2409b"/>
<circle cx="450.9" cy="527.4" r="2.85" fill="#c2409b"/>
<circle cx="460.9" cy="528.6" r="2.85" fill="#c2409b"/>
<circle cx="459.6" cy="530.0" r="2.85" fill="#c2409b"/>
<circle cx="455.4" cy="527.1" r="2.85" fill="#c2409b"/>
<circle cx="460.9" cy="528.1" r="2.85" fill="#c2409b"/>
<circle cx="453.6" cy="529.9" r="2.85" fill="#c2409b"/>
<circle cx="444.2" cy="525.9" r="2.85" fill="#c2409b"/>
<circle cx="438.9" cy="529.1" r="2.85" fill="#c2409b"/>
<circle cx="460.7" cy="525.7" r="2.85" fill="#c2409b"/>
<circle cx="457.3" cy="529.4" r="2.85" fill="#c2409b"/>
<circle cx="452.8" cy="529.0" r="2.85" fill="#c2409b"/>
<circle cx="455.9" cy="527.1" r="2.85" fill="#c2409b"/>
<circle cx="450.1" cy="530.0" r="2.85" fill="#c2409b"/>
<circle cx="436.7" cy="526.1" r="2.85" fill="#c2409b"/>
<circle cx="437.3" cy="526.5" r="2.85" fill="#c2409b"/>
<circle cx="444.4" cy="526.8" r="2.85" fill="#c2409b"/>
<circle cx="463.0" cy="527.1" r="2.85" fill="#c2409b"/>
<circle cx="462.4" cy="529.5" r="2.85" fill="#c2409b"/>
<circle cx="446.7" cy="529.4" r="2.85" fill="#c2409b"/>
<circle cx="453.9" cy="528.2" r="2.85" fill="#c2409b"/>
<circle cx="439.3" cy="529.9" r="2.85" fill="#c2409b"/>
<circle cx="443.8" cy="528.4" r="2.85" fill="#c2409b"/>
<circle cx="461.8" cy="527.5" r="2.85" fill="#c2409b"/>
<circle cx="450.6" cy="528.0" r="2.85" fill="#c2409b"/>
<circle cx="457.8" cy="529.9" r="2.85" fill="#c2409b"/>
<circle cx="437.0" cy="528.3" r="2.85" fill="#c2409b"/>
<path d="M435.0,523.8 H465.0" stroke="#8a8a8a" stroke-width="2.8"/>
<path d="M435.0,527.0 H465.0" stroke="#0a0a0a" stroke-width="3.1"/>
<path d="M483.1,524.4C484.3,524.6 487.4,525.1 490.0,525.6C492.6,526.2 497.2,527.0 498.5,527.8C499.8,528.5 497.7,529.8 497.5,530.2L468.8,530.2C468.6,529.8 466.5,528.5 467.8,527.8C469.0,527.0 473.7,526.2 476.2,525.6C478.8,525.1 482.0,524.6 483.1,524.4Z" fill="#fff" stroke="#1c1c1c" stroke-width="1.3" stroke-linejoin="round"/>
<circle cx="479.4" cy="525.6" r="2.85" fill="#c2409b"/>
<circle cx="483.1" cy="525.0" r="2.85" fill="#c2409b"/>
<circle cx="486.9" cy="525.4" r="2.85" fill="#c2409b"/>
<circle cx="475.6" cy="527.2" r="2.85" fill="#c2409b"/>
<circle cx="490.6" cy="527.2" r="2.85" fill="#c2409b"/>
<circle cx="472.5" cy="528.8" r="2.85" fill="#c2409b"/>
<circle cx="480.0" cy="528.5" r="2.85" fill="#c2409b"/>
<circle cx="485.0" cy="529.0" r="2.85" fill="#c2409b"/>
<circle cx="493.8" cy="529.0" r="2.85" fill="#c2409b"/>
<path d="M468.1,528.5 H498.8" stroke="#8a8a8a" stroke-width="2.6"/>
</g>
<g id="t2rbd_b">
<path d="M517.8,513.5C517.7,514.1 517.2,515.7 517.2,516.9C517.3,518.1 516.6,519.7 518.1,520.6C519.6,521.6 523.9,521.9 526.2,522.5C528.6,523.1 532.0,523.7 532.2,524.4C532.5,525.0 528.3,526.1 527.5,526.5L506.2,526.5C505.5,526.1 501.3,525.0 501.5,524.4C501.7,523.7 505.1,523.1 507.5,522.5C509.9,521.9 514.2,521.6 515.6,520.6C517.1,519.7 516.2,518.1 516.2,516.9C516.3,515.7 515.8,514.1 515.8,513.5Z" fill="#fff" stroke="#1c1c1c" stroke-width="1.3" stroke-linejoin="round"/>
<circle cx="515.6" cy="513.1" r="2.85" fill="#c2409b"/>
<circle cx="517.5" cy="520.0" r="2.85" fill="#9bc857"/>
<circle cx="510.0" cy="527.5" r="2.85" fill="#c2409b"/>
<circle cx="514.4" cy="528.8" r="2.85" fill="#c2409b"/>
<circle cx="519.4" cy="528.8" r="2.85" fill="#c2409b"/>
<circle cx="522.8" cy="527.2" r="2.85" fill="#c2409b"/>
<circle cx="512.5" cy="525.6" r="2.85" fill="#c2409b"/>
<circle cx="521.2" cy="525.6" r="2.85" fill="#c2409b"/>
<path d="M501.5,523.8 H532.0" stroke="#8a8a8a" stroke-width="2.8"/>
<path d="M551.0,475.5C551.1,477.9 551.3,484.7 551.5,490.0C551.7,495.3 551.2,503.1 552.0,507.5C552.8,511.9 554.3,514.0 556.2,516.2C558.2,518.5 562.1,519.8 563.8,521.2C565.4,522.7 566.7,523.8 566.2,525.0C565.8,526.2 562.1,528.1 561.2,528.8L540.0,528.8C539.2,528.1 535.4,526.2 535.0,525.0C534.6,523.8 535.8,522.7 537.5,521.2C539.2,519.8 543.0,518.5 545.0,516.2C547.0,514.0 548.7,511.9 549.5,507.5C550.3,503.1 549.8,495.3 550.0,490.0C550.2,484.7 550.4,477.9 550.5,475.5Z" fill="#fff" stroke="#1c1c1c" stroke-width="1.3" stroke-linejoin="round"/>
<circle cx="551.2" cy="476.2" r="2.85" fill="#c2409b"/>
<circle cx="550.0" cy="498.8" r="2.85" fill="#c2409b"/>
<circle cx="547.5" cy="515.0" r="2.85" fill="#c2409b"/>
<circle cx="553.8" cy="516.2" r="2.85" fill="#9bc857"/>
<circle cx="549.5" cy="518.0" r="2.85" fill="#9bc857"/>
<circle cx="543.8" cy="518.8" r="2.85" fill="#c2409b"/>
<circle cx="557.5" cy="518.8" r="2.85" fill="#c2409b"/>
<circle cx="545.9" cy="522.3" r="2.85" fill="#c2409b"/>
<circle cx="539.0" cy="525.0" r="2.85" fill="#c2409b"/>
<circle cx="553.0" cy="527.6" r="2.85" fill="#c2409b"/>
<circle cx="538.0" cy="524.3" r="2.85" fill="#c2409b"/>
<circle cx="543.6" cy="525.1" r="2.85" fill="#c2409b"/>
<circle cx="559.7" cy="522.1" r="2.85" fill="#c2409b"/>
<circle cx="554.3" cy="525.3" r="2.85" fill="#c2409b"/>
<circle cx="552.9" cy="524.0" r="2.85" fill="#c2409b"/>
<circle cx="538.3" cy="527.3" r="2.85" fill="#c2409b"/>
<circle cx="548.5" cy="525.0" r="2.85" fill="#9bc857"/>
<circle cx="545.5" cy="527.0" r="2.85" fill="#c2409b"/>
<circle cx="539.8" cy="525.2" r="2.85" fill="#c2409b"/>
<circle cx="547.2" cy="525.1" r="2.85" fill="#c2409b"/>
<circle cx="552.5" cy="525.6" r="2.85" fill="#c2409b"/>
<circle cx="555.7" cy="524.2" r="2.85" fill="#c2409b"/>
<circle cx="549.8" cy="527.7" r="2.85" fill="#c2409b"/>
<circle cx="545.2" cy="526.8" r="2.85" fill="#c2409b"/>
<circle cx="539.3" cy="523.4" r="2.85" fill="#c2409b"/>
<circle cx="561.1" cy="526.4" r="2.85" fill="#c2409b"/>
<circle cx="553.7" cy="521.8" r="2.85" fill="#c2409b"/>
<circle cx="548.5" cy="526.5" r="2.85" fill="#c2409b"/>
<circle cx="562.7" cy="524.2" r="2.85" fill="#c2409b"/>
<circle cx="558.0" cy="525.3" r="2.85" fill="#c2409b"/>
<circle cx="546.4" cy="523.7" r="2.85" fill="#c2409b"/>
<circle cx="552.9" cy="524.4" r="2.85" fill="#c2409b"/>
<circle cx="563.0" cy="524.6" r="2.85" fill="#c2409b"/>
<path d="M535.5,521.0 H565.8" stroke="#8a8a8a" stroke-width="2.8"/>
<path d="M535.5,524.5 H565.8" stroke="#0a0a0a" stroke-width="3.1"/>
<path d="M591.9,520.0C592.0,520.6 591.6,522.9 592.8,523.8C593.9,524.6 597.6,524.7 598.8,525.2C599.9,525.8 599.8,526.6 599.8,527.2C599.8,527.9 598.9,528.8 598.8,529.1L569.4,529.1C569.2,528.8 568.4,527.9 568.4,527.2C568.4,526.6 568.2,525.8 569.4,525.2C570.5,524.7 574.2,524.6 575.4,523.8C576.5,522.9 576.1,520.6 576.2,520.0Z" fill="#fff" stroke="#1c1c1c" stroke-width="1.3" stroke-linejoin="round"/>
<circle cx="581.9" cy="520.0" r="2.85" fill="#c2409b"/>
<circle cx="586.2" cy="520.0" r="2.85" fill="#9bc857"/>
<circle cx="577.5" cy="530.0" r="2.85" fill="#c2409b"/>
<circle cx="583.8" cy="530.2" r="2.85" fill="#c2409b"/>
<circle cx="588.8" cy="530.0" r="2.85" fill="#c2409b"/>
<path d="M568.8,526.0 H599.4" stroke="#8a8a8a" stroke-width="2.8"/>
<path d="M568.8,527.8 H599.4" stroke="#0a0a0a" stroke-width="3.1"/>
<path d="M621.2,513.2C620.6,514.0 617.1,516.5 617.5,518.0C617.9,519.5 621.3,520.9 623.8,522.0C626.2,523.1 631.0,523.4 632.0,524.5C633.0,525.6 630.3,528.0 630.0,528.8L605.0,528.8C604.6,528.0 601.5,525.6 602.5,524.5C603.5,523.4 608.8,523.1 611.2,522.0C613.8,520.9 617.1,519.5 617.5,518.0C617.9,516.5 614.4,514.0 613.8,513.2Z" fill="#fff" stroke="#1c1c1c" stroke-width="1.3" stroke-linejoin="round"/>
<circle cx="622.0" cy="513.2" r="2.85" fill="#c2409b"/>
<circle cx="617.5" cy="518.8" r="2.85" fill="#c2409b"/>
<circle cx="610.0" cy="527.5" r="2.85" fill="#c2409b"/>
<circle cx="616.8" cy="528.8" r="2.85" fill="#c2409b"/>
<circle cx="625.0" cy="525.0" r="2.85" fill="#c2409b"/>
<path d="M602.5,525.0 H632.5" stroke="#8a8a8a" stroke-width="2.8"/>
</g>
<g id="t3rbd">
<path d="M691.8,356.2C692.5,359.0 694.7,364.8 696.2,372.5C697.8,380.2 700.2,392.9 701.2,402.5C702.3,412.1 702.5,419.6 702.5,430.0C702.5,440.4 701.9,452.1 701.2,465.0C700.6,477.9 699.3,497.2 698.8,507.5C698.2,517.8 698.1,523.8 698.0,527.0L676.2,527.0C676.2,523.8 676.2,517.8 675.8,507.5C675.3,497.2 674.4,477.9 673.8,465.0C673.1,452.1 672.0,441.7 672.0,430.0C672.0,418.3 672.6,405.8 673.8,395.0C674.9,384.2 677.4,371.5 678.8,365.0C680.1,358.5 681.5,357.7 682.0,356.2Z" fill="#fff" stroke="#1c1c1c" stroke-width="1.3" stroke-linejoin="round"/>
<circle cx="690.0" cy="355.8" r="2.85" fill="#3f9cc6"/>
<circle cx="686.2" cy="376.2" r="2.85" fill="#c2409b"/>
<circle cx="689.2" cy="379.2" r="2.85" fill="#c2409b"/>
<circle cx="681.2" cy="393.8" r="2.85" fill="#c2409b"/>
<circle cx="693.8" cy="407.0" r="2.85" fill="#c2409b"/>
<circle cx="681.2" cy="410.8" r="2.85" fill="#c2409b"/>
<circle cx="688.0" cy="410.8" r="2.85" fill="#c2409b"/>
<circle cx="674.5" cy="413.8" r="2.85" fill="#c2409b"/>
<circle cx="698.2" cy="419.5" r="2.85" fill="#c2409b"/>
<circle cx="685.8" cy="425.0" r="2.85" fill="#c2409b"/>
<circle cx="690.5" cy="440.5" r="2.85" fill="#c2409b"/>
<circle cx="681.2" cy="449.2" r="2.85" fill="#c2409b"/>
<circle cx="692.5" cy="452.5" r="2.85" fill="#c2409b"/>
<circle cx="683.8" cy="461.8" r="2.85" fill="#c2409b"/>
<circle cx="688.2" cy="475.5" r="2.85" fill="#c2409b"/>
<circle cx="678.2" cy="484.5" r="2.85" fill="#c2409b"/>
<circle cx="694.5" cy="486.8" r="2.85" fill="#c2409b"/>
<circle cx="685.0" cy="496.2" r="2.85" fill="#c2409b"/>
<circle cx="689.2" cy="499.2" r="2.85" fill="#c2409b"/>
<circle cx="680.0" cy="514.5" r="2.85" fill="#c2409b"/>
<circle cx="691.8" cy="522.0" r="2.85" fill="#c2409b"/>
<circle cx="683.0" cy="524.5" r="2.85" fill="#c2409b"/>
<circle cx="687.0" cy="526.8" r="2.85" fill="#c2409b"/>
<path d="M672.0,449.0 H702.5" stroke="#0a0a0a" stroke-width="3.1"/>
<path d="M672.0,449.0 H702.5" stroke="#8a8a8a" stroke-width="2.8"/>
<path d="M729.2,339.5C730.0,342.1 732.7,349.5 733.8,355.0C734.8,360.5 735.6,366.7 735.8,372.5C735.9,378.3 735.2,383.8 734.5,390.0C733.8,396.2 732.0,401.9 731.2,410.0C730.5,418.1 730.2,434.0 730.0,438.8L712.5,438.8C712.3,434.0 712.1,418.1 711.2,410.0C710.4,401.9 708.5,396.2 707.5,390.0C706.5,383.8 705.6,378.3 705.5,372.5C705.4,366.7 706.0,360.5 707.0,355.0C708.0,349.5 710.5,342.1 711.2,339.5Z" fill="#fff" stroke="#1c1c1c" stroke-width="1.3" stroke-linejoin="round"/>
<circle cx="721.2" cy="339.5" r="2.85" fill="#c2409b"/>
<circle cx="713.2" cy="356.8" r="2.85" fill="#3f9cc6"/>
<circle cx="730.0" cy="368.2" r="2.85" fill="#9bc857"/>
<circle cx="717.5" cy="377.0" r="2.85" fill="#3f9cc6"/>
<circle cx="724.2" cy="378.2" r="2.85" fill="#c2409b"/>
<circle cx="714.2" cy="389.5" r="2.85" fill="#c2409b"/>
<circle cx="725.8" cy="428.2" r="2.85" fill="#3f9cc6"/>
<circle cx="715.0" cy="433.2" r="2.85" fill="#c2409b"/>
<circle cx="720.5" cy="438.2" r="2.85" fill="#3f9cc6"/>
<path d="M705.8,390.0 H735.8" stroke="#8a8a8a" stroke-width="2.8"/>
<path d="M705.8,378.2 H735.8" stroke="#0a0a0a" stroke-width="3.1"/>
<path d="M757.0,371.2C757.2,375.2 757.8,386.9 758.2,395.0C758.8,403.1 759.2,410.4 760.0,420.0C760.8,429.6 762.0,442.5 763.2,452.5C764.5,462.5 766.5,472.5 767.5,480.0C768.5,487.5 769.4,491.7 769.5,497.5C769.6,503.3 768.8,510.0 768.0,515.0C767.2,520.0 765.5,525.4 765.0,527.5L743.8,527.5C743.2,525.4 741.2,520.0 740.5,515.0C739.8,510.0 739.1,503.3 739.2,497.5C739.4,491.7 740.3,487.5 741.2,480.0C742.2,472.5 743.8,462.5 745.0,452.5C746.2,442.5 747.8,429.6 748.8,420.0C749.7,410.4 750.2,403.1 750.8,395.0C751.3,386.9 751.8,375.2 752.0,371.2Z" fill="#fff" stroke="#1c1c1c" stroke-width="1.3" stroke-linejoin="round"/>
<circle cx="756.2" cy="371.2" r="2.85" fill="#c2409b"/>
<circle cx="754.2" cy="374.2" r="2.85" fill="#c2409b"/>
<circle cx="755.0" cy="403.8" r="2.85" fill="#c2409b"/>
<circle cx="751.8" cy="407.5" r="2.85" fill="#9bc857"/>
<circle cx="756.2" cy="415.0" r="2.85" fill="#9bc857"/>
<circle cx="752.5" cy="425.0" r="2.85" fill="#c2409b"/>
<circle cx="754.2" cy="430.0" r="2.85" fill="#9bc857"/>
<circle cx="747.5" cy="438.8" r="2.85" fill="#c2409b"/>
<circle cx="760.8" cy="440.0" r="2.85" fill="#9bc857"/>
<circle cx="753.8" cy="442.5" r="2.85" fill="#c2409b"/>
<circle cx="757.0" cy="444.5" r="2.85" fill="#c2409b"/>
<circle cx="749.5" cy="448.0" r="2.85" fill="#c2409b"/>
<circle cx="759.2" cy="450.8" r="2.85" fill="#c2409b"/>
<circle cx="752.5" cy="458.0" r="2.85" fill="#9bc857"/>
<circle cx="755.5" cy="460.0" r="2.85" fill="#c2409b"/>
<circle cx="749.5" cy="468.8" r="2.85" fill="#c2409b"/>
<circle cx="759.2" cy="472.5" r="2.85" fill="#3f9cc6"/>
<circle cx="753.0" cy="475.5" r="2.85" fill="#c2409b"/>
<circle cx="756.2" cy="483.8" r="2.85" fill="#c2409b"/>
<circle cx="750.0" cy="487.5" r="2.85" fill="#c2409b"/>
<circle cx="758.8" cy="491.2" r="2.85" fill="#c2409b"/>
<circle cx="749.2" cy="496.2" r="2.85" fill="#c2409b"/>
<circle cx="755.0" cy="497.5" r="2.85" fill="#c2409b"/>
<circle cx="743.0" cy="500.0" r="2.85" fill="#c2409b"/>
<circle cx="764.2" cy="501.2" r="2.85" fill="#c2409b"/>
<circle cx="746.2" cy="505.5" r="2.85" fill="#c2409b"/>
<circle cx="753.0" cy="504.5" r="2.85" fill="#c2409b"/>
<circle cx="759.5" cy="505.0" r="2.85" fill="#c2409b"/>
<circle cx="749.2" cy="509.2" r="2.85" fill="#c2409b"/>
<circle cx="762.5" cy="507.5" r="2.85" fill="#c2409b"/>
<circle cx="755.8" cy="511.2" r="2.85" fill="#c2409b"/>
<circle cx="743.2" cy="517.0" r="2.85" fill="#c2409b"/>
<circle cx="763.2" cy="517.0" r="2.85" fill="#c2409b"/>
<circle cx="750.0" cy="518.0" r="2.85" fill="#c2409b"/>
<circle cx="746.2" cy="521.2" r="2.85" fill="#c2409b"/>
<circle cx="756.8" cy="519.5" r="2.85" fill="#c2409b"/>
<circle cx="760.0" cy="520.5" r="2.85" fill="#c2409b"/>
<circle cx="749.2" cy="523.8" r="2.85" fill="#c2409b"/>
<circle cx="754.2" cy="527.5" r="2.85" fill="#c2409b"/>
<path d="M739.2,474.0 H769.5" stroke="#8a8a8a" stroke-width="2.8"/>
<path d="M739.2,484.0 H769.5" stroke="#0a0a0a" stroke-width="3.1"/>
<path d="M797.5,396.8C797.8,399.8 799.4,407.8 799.5,415.0C799.6,422.2 798.5,431.7 798.0,440.0C797.5,448.3 795.9,456.7 796.2,465.0C796.6,473.3 798.9,482.9 800.0,490.0C801.1,497.1 803.0,501.5 803.0,507.5C803.0,513.5 800.5,522.7 800.0,525.8L775.0,525.8C774.6,522.7 772.4,513.5 772.5,507.5C772.6,501.5 774.4,497.1 775.5,490.0C776.6,482.9 779.0,473.3 779.2,465.0C779.5,456.7 777.6,448.3 777.0,440.0C776.4,431.7 775.5,422.2 775.8,415.0C776.0,407.8 777.8,399.8 778.2,396.8Z" fill="#fff" stroke="#1c1c1c" stroke-width="1.3" stroke-linejoin="round"/>
<circle cx="794.2" cy="396.8" r="2.85" fill="#c2409b"/>
<circle cx="787.0" cy="403.2" r="2.85" fill="#3f9cc6"/>
<circle cx="791.2" cy="405.0" r="2.85" fill="#c2409b"/>
<circle cx="783.8" cy="414.2" r="2.85" fill="#c2409b"/>
<circle cx="792.5" cy="439.5" r="2.85" fill="#c2409b"/>
<circle cx="785.5" cy="442.5" r="2.85" fill="#c2409b"/>
<circle cx="788.8" cy="446.2" r="2.85" fill="#c2409b"/>
<circle cx="783.8" cy="483.0" r="2.85" fill="#c2409b"/>
<circle cx="796.2" cy="500.0" r="2.85" fill="#c2409b"/>
<circle cx="785.0" cy="504.2" r="2.85" fill="#c2409b"/>
<circle cx="791.2" cy="506.8" r="2.85" fill="#c2409b"/>
<circle cx="777.5" cy="510.0" r="2.85" fill="#3f9cc6"/>
<circle cx="794.5" cy="511.8" r="2.85" fill="#c2409b"/>
<circle cx="782.5" cy="518.2" r="2.85" fill="#c2409b"/>
<circle cx="788.0" cy="526.2" r="2.85" fill="#c2409b"/>
<path d="M773.0,467.2 H803.0" stroke="#8a8a8a" stroke-width="2.8"/>
<path d="M773.0,483.5 H803.0" stroke="#0a0a0a" stroke-width="3.1"/>
<path d="M824.5,343.2C824.7,347.7 824.8,360.1 825.5,370.0C826.2,379.9 827.4,392.9 828.8,402.5C830.1,412.1 832.3,419.6 833.8,427.5C835.2,435.4 837.1,442.9 837.5,450.0C837.9,457.1 837.1,463.0 836.2,470.0C835.4,477.0 833.1,488.3 832.5,492.0L810.0,492.0C809.5,488.3 807.7,477.0 807.0,470.0C806.3,463.0 805.5,457.1 805.8,450.0C806.0,442.9 807.4,435.4 808.8,427.5C810.1,419.6 812.4,412.1 813.8,402.5C815.1,392.9 816.3,379.9 817.0,370.0C817.7,360.1 817.8,347.7 818.0,343.2Z" fill="#fff" stroke="#1c1c1c" stroke-width="1.3" stroke-linejoin="round"/>
<circle cx="820.0" cy="343.2" r="2.85" fill="#3f9cc6"/>
<circle cx="822.5" cy="403.0" r="2.85" fill="#9bc857"/>
<circle cx="815.0" cy="415.0" r="2.85" fill="#3f9cc6"/>
<circle cx="831.2" cy="439.5" r="2.85" fill="#3f9cc6"/>
<circle cx="818.2" cy="444.2" r="2.85" fill="#3f9cc6"/>
<circle cx="824.5" cy="447.0" r="2.85" fill="#c2409b"/>
<circle cx="813.8" cy="463.8" r="2.85" fill="#c2409b"/>
<circle cx="827.5" cy="481.8" r="2.85" fill="#c2409b"/>
<circle cx="815.5" cy="482.5" r="2.85" fill="#c2409b"/>
<circle cx="821.8" cy="491.8" r="2.85" fill="#3f9cc6"/>
<path d="M806.2,441.2 H836.8" stroke="#8a8a8a" stroke-width="2.8"/>
<path d="M806.2,446.0 H836.8" stroke="#0a0a0a" stroke-width="3.1"/>
<path d="M862.0,384.5C862.7,386.7 864.9,391.6 866.2,397.5C867.6,403.4 869.5,412.9 870.0,420.0C870.5,427.1 870.3,432.5 869.5,440.0C868.7,447.5 866.4,456.7 865.0,465.0C863.6,473.3 862.6,482.5 861.2,490.0C859.9,497.5 857.7,506.7 857.0,510.0L853.0,510.0C852.4,506.7 850.6,497.5 849.2,490.0C847.9,482.5 846.5,473.3 845.0,465.0C843.5,456.7 840.8,447.5 840.0,440.0C839.2,432.5 839.4,427.1 840.0,420.0C840.6,412.9 842.3,403.4 843.8,397.5C845.2,391.6 847.9,386.7 848.8,384.5Z" fill="#fff" stroke="#1c1c1c" stroke-width="1.3" stroke-linejoin="round"/>
<circle cx="854.2" cy="384.2" r="2.85" fill="#c2409b"/>
<circle cx="858.0" cy="389.2" r="2.85" fill="#9bc857"/>
<circle cx="850.0" cy="390.8" r="2.85" fill="#c2409b"/>
<circle cx="860.0" cy="391.2" r="2.85" fill="#c2409b"/>
<circle cx="852.5" cy="405.5" r="2.85" fill="#c2409b"/>
<circle cx="855.5" cy="410.5" r="2.85" fill="#c2409b"/>
<circle cx="843.0" cy="418.8" r="2.85" fill="#c2409b"/>
<circle cx="848.0" cy="421.8" r="2.85" fill="#c2409b"/>
<circle cx="853.8" cy="421.2" r="2.85" fill="#c2409b"/>
<circle cx="860.0" cy="422.5" r="2.85" fill="#c2409b"/>
<circle cx="866.8" cy="421.2" r="2.85" fill="#c2409b"/>
<circle cx="849.5" cy="426.2" r="2.85" fill="#c2409b"/>
<circle cx="850.8" cy="431.2" r="2.85" fill="#c2409b"/>
<circle cx="856.2" cy="435.0" r="2.85" fill="#c2409b"/>
<circle cx="862.0" cy="429.2" r="2.85" fill="#c2409b"/>
<circle cx="850.0" cy="449.2" r="2.85" fill="#c2409b"/>
<circle cx="853.2" cy="455.5" r="2.85" fill="#c2409b"/>
<circle cx="860.0" cy="454.2" r="2.85" fill="#c2409b"/>
<circle cx="856.8" cy="464.2" r="2.85" fill="#c2409b"/>
<circle cx="850.8" cy="468.2" r="2.85" fill="#c2409b"/>
<circle cx="857.5" cy="479.5" r="2.85" fill="#c2409b"/>
<circle cx="853.2" cy="484.5" r="2.85" fill="#c2409b"/>
<circle cx="855.0" cy="508.8" r="2.85" fill="#c2409b"/>
<path d="M840.0,433.2 H870.0" stroke="#8a8a8a" stroke-width="2.8"/>
<path d="M840.0,425.8 H870.0" stroke="#0a0a0a" stroke-width="3.1"/>
<path d="M898.8,379.2C899.4,381.9 901.6,389.9 902.5,395.0C903.4,400.1 904.2,404.2 904.2,410.0C904.2,415.8 903.6,422.9 902.5,430.0C901.4,437.1 898.5,442.5 897.5,452.5C896.5,462.5 896.5,483.8 896.2,490.0L881.2,490.0C881.0,483.8 881.0,462.5 880.0,452.5C879.0,442.5 876.2,437.1 875.0,430.0C873.8,422.9 873.0,415.8 873.0,410.0C873.0,404.2 874.3,400.1 875.0,395.0C875.7,389.9 876.7,381.9 877.0,379.2Z" fill="#fff" stroke="#1c1c1c" stroke-width="1.3" stroke-linejoin="round"/>
<circle cx="890.5" cy="379.2" r="2.85" fill="#3f9cc6"/>
<circle cx="878.8" cy="413.0" r="2.85" fill="#c2409b"/>
<circle cx="895.0" cy="415.0" r="2.85" fill="#c2409b"/>
<circle cx="885.5" cy="452.5" r="2.85" fill="#9bc857"/>
<circle cx="888.2" cy="490.0" r="2.85" fill="#c2409b"/>
<path d="M873.0,430.0 H903.8" stroke="#8a8a8a" stroke-width="2.8"/>
<path d="M873.0,414.8 H903.8" stroke="#0a0a0a" stroke-width="3.1"/>
<path d="M927.5,370.5C927.6,374.6 927.6,386.8 928.0,395.0C928.4,403.2 928.6,412.5 930.0,420.0C931.4,427.5 934.9,434.6 936.2,440.0C937.6,445.4 938.6,447.1 938.0,452.5C937.4,457.9 934.3,465.4 932.5,472.5C930.7,479.6 928.1,487.5 927.0,495.0C925.9,502.5 926.0,513.8 925.8,517.5L919.2,517.5C919.0,513.8 919.1,502.5 918.0,495.0C916.9,487.5 914.3,479.6 912.5,472.5C910.7,465.4 907.6,457.9 907.0,452.5C906.4,447.1 907.4,445.4 908.8,440.0C910.1,434.6 913.7,427.5 915.0,420.0C916.3,412.5 916.4,403.2 916.8,395.0C917.1,386.8 917.0,374.6 917.0,370.5Z" fill="#fff" stroke="#1c1c1c" stroke-width="1.3" stroke-linejoin="round"/>
<circle cx="925.8" cy="370.5" r="2.85" fill="#3f9cc6"/>
<circle cx="920.8" cy="400.0" r="2.85" fill="#c2409b"/>
<circle cx="925.0" cy="441.2" r="2.85" fill="#c2409b"/>
<circle cx="912.5" cy="445.5" r="2.85" fill="#c2409b"/>
<circle cx="928.8" cy="454.5" r="2.85" fill="#3f9cc6"/>
<circle cx="917.5" cy="463.2" r="2.85" fill="#c2409b"/>
<circle cx="922.0" cy="517.5" r="2.85" fill="#c2409b"/>
<path d="M907.0,441.8 H937.5" stroke="#8a8a8a" stroke-width="2.8"/>
<path d="M907.0,445.5 H937.5" stroke="#0a0a0a" stroke-width="3.1"/>
</g>
<g id="t4rbd">
<path d="M1005.5,484.4C1005.8,484.9 1007.1,486.1 1007.2,487.5C1007.4,488.9 1007.2,490.9 1006.5,492.5C1005.8,494.1 1003.5,495.6 1002.8,496.9C1002.0,498.1 1002.0,498.8 1002.2,500.0C1002.5,501.2 1004.5,502.9 1004.5,504.4C1004.5,505.8 1002.8,508.0 1002.5,508.8L981.0,508.8C980.6,508.0 978.8,505.8 978.8,504.4C978.8,502.9 980.7,501.2 981.0,500.0C981.3,498.8 981.3,498.1 980.6,496.9C979.9,495.6 977.6,494.1 976.9,492.5C976.1,490.9 975.8,488.9 976.0,487.5C976.2,486.1 977.7,484.9 978.0,484.4Z" fill="#fff" stroke="#1c1c1c" stroke-width="1.3" stroke-linejoin="round"/>
<circle cx="980.6" cy="484.8" r="2.85" fill="#3f9cc6"/>
<circle cx="988.8" cy="486.5" r="2.85" fill="#c2409b"/>
<circle cx="993.4" cy="484.0" r="2.85" fill="#c2409b"/>
<circle cx="1001.9" cy="486.5" r="2.85" fill="#c2409b"/>
<circle cx="993.1" cy="491.0" r="2.85" fill="#c2409b"/>
<circle cx="984.1" cy="504.4" r="2.85" fill="#c2409b"/>
<circle cx="986.2" cy="505.6" r="2.85" fill="#c2409b"/>
<circle cx="991.5" cy="508.1" r="2.85" fill="#c2409b"/>
<circle cx="997.5" cy="504.8" r="2.85" fill="#c2409b"/>
<path d="M976.8,495.0 H1007.0" stroke="#8a8a8a" stroke-width="2.8"/>
<path d="M976.8,491.0 H1007.0" stroke="#0a0a0a" stroke-width="3.1"/>
<path d="M1038.2,486.2C1038.6,486.9 1040.1,488.1 1040.2,490.0C1040.4,491.9 1040.1,494.6 1039.2,497.5C1038.4,500.4 1036.1,503.0 1035.0,507.5C1033.9,512.0 1032.9,521.5 1032.5,524.2L1019.5,524.2C1019.2,521.5 1018.8,512.0 1017.5,507.5C1016.2,503.0 1013.2,500.4 1012.0,497.5C1010.8,494.6 1010.5,491.9 1010.5,490.0C1010.5,488.1 1011.8,486.9 1012.0,486.2Z" fill="#fff" stroke="#1c1c1c" stroke-width="1.3" stroke-linejoin="round"/>
<circle cx="1013.2" cy="489.5" r="2.85" fill="#9bc857"/>
<circle cx="1026.8" cy="486.8" r="2.85" fill="#3f9cc6"/>
<circle cx="1022.0" cy="490.8" r="2.85" fill="#c2409b"/>
<circle cx="1035.8" cy="489.2" r="2.85" fill="#c2409b"/>
<circle cx="1028.0" cy="493.2" r="2.85" fill="#3f9cc6"/>
<circle cx="1021.2" cy="503.0" r="2.85" fill="#c2409b"/>
<circle cx="1027.5" cy="507.5" r="2.85" fill="#3f9cc6"/>
<circle cx="1022.5" cy="520.0" r="2.85" fill="#3f9cc6"/>
<circle cx="1025.5" cy="524.2" r="2.85" fill="#c2409b"/>
<path d="M1010.5,500.5 H1040.5" stroke="#8a8a8a" stroke-width="2.8"/>
<path d="M1010.5,493.2 H1040.5" stroke="#0a0a0a" stroke-width="3.1"/>
<path d="M1058.8,504.5C1059.0,505.4 1059.5,508.0 1060.0,510.0C1060.5,512.0 1060.2,514.2 1061.5,516.2C1062.8,518.3 1065.4,520.8 1067.5,522.5C1069.6,524.2 1073.3,525.0 1074.2,526.2C1075.2,527.5 1073.4,529.4 1073.2,530.0L1044.2,530.0C1044.1,529.4 1042.3,527.5 1043.2,526.2C1044.2,525.0 1047.9,524.2 1050.0,522.5C1052.1,520.8 1054.8,518.3 1056.0,516.2C1057.2,514.2 1057.2,512.0 1057.5,510.0C1057.8,508.0 1057.9,505.4 1058.0,504.5Z" fill="#fff" stroke="#1c1c1c" stroke-width="1.3" stroke-linejoin="round"/>
<circle cx="1058.2" cy="505.8" r="2.85" fill="#3f9cc6"/>
<circle cx="1058.8" cy="512.5" r="2.85" fill="#c2409b"/>
<circle cx="1057.5" cy="516.2" r="2.85" fill="#c2409b"/>
<circle cx="1060.0" cy="518.0" r="2.85" fill="#9bc857"/>
<circle cx="1056.2" cy="519.5" r="2.85" fill="#9bc857"/>
<circle cx="1059.5" cy="521.2" r="2.85" fill="#c2409b"/>
<circle cx="1053.8" cy="523.0" r="2.85" fill="#c2409b"/>
<circle cx="1063.0" cy="523.0" r="2.85" fill="#c2409b"/>
<circle cx="1057.5" cy="527.8" r="2.85" fill="#c2409b"/>
<circle cx="1057.5" cy="528.6" r="2.85" fill="#c2409b"/>
<circle cx="1050.4" cy="527.7" r="2.85" fill="#c2409b"/>
<circle cx="1048.0" cy="527.1" r="2.85" fill="#c2409b"/>
<circle cx="1059.8" cy="528.7" r="2.85" fill="#c2409b"/>
<circle cx="1061.3" cy="527.3" r="2.85" fill="#c2409b"/>
<circle cx="1062.8" cy="527.9" r="2.85" fill="#c2409b"/>
<circle cx="1062.0" cy="528.5" r="2.85" fill="#c2409b"/>
<circle cx="1047.1" cy="526.8" r="2.85" fill="#c2409b"/>
<circle cx="1061.4" cy="528.4" r="2.85" fill="#c2409b"/>
<circle cx="1057.2" cy="528.6" r="2.85" fill="#c2409b"/>
<circle cx="1062.5" cy="527.6" r="2.85" fill="#c2409b"/>
<circle cx="1057.6" cy="527.0" r="2.85" fill="#c2409b"/>
<circle cx="1064.3" cy="527.1" r="2.85" fill="#c2409b"/>
<circle cx="1059.1" cy="526.3" r="2.85" fill="#c2409b"/>
<circle cx="1056.1" cy="528.6" r="2.85" fill="#c2409b"/>
<circle cx="1047.3" cy="526.3" r="2.85" fill="#c2409b"/>
<circle cx="1051.2" cy="528.8" r="2.85" fill="#c2409b"/>
<circle cx="1058.0" cy="528.9" r="2.85" fill="#c2409b"/>
<circle cx="1056.6" cy="527.8" r="2.85" fill="#c2409b"/>
<circle cx="1066.1" cy="527.0" r="2.85" fill="#c2409b"/>
<circle cx="1053.7" cy="526.3" r="2.85" fill="#c2409b"/>
<circle cx="1065.6" cy="526.6" r="2.85" fill="#c2409b"/>
<circle cx="1064.2" cy="526.3" r="2.85" fill="#c2409b"/>
<path d="M1043.8,524.2 H1073.8" stroke="#8a8a8a" stroke-width="2.8"/>
<path d="M1043.8,526.8 H1073.8" stroke="#0a0a0a" stroke-width="3.1"/>
<path d="M1089.5,514.2C1090.1,514.5 1091.8,515.5 1093.0,515.8C1094.2,516.0 1095.7,515.0 1096.5,515.8C1097.3,516.5 1096.2,518.5 1098.0,520.0C1099.8,521.5 1105.5,523.0 1107.0,524.5C1108.5,526.0 1107.0,528.0 1107.0,528.8L1078.0,528.8C1077.9,528.0 1076.1,525.8 1077.5,524.5C1078.9,523.2 1084.5,522.4 1086.2,521.2C1088.0,520.1 1087.8,518.7 1088.0,517.5C1088.2,516.3 1087.6,514.8 1087.5,514.2Z" fill="#fff" stroke="#1c1c1c" stroke-width="1.3" stroke-linejoin="round"/>
<circle cx="1089.2" cy="515.8" r="2.85" fill="#c2409b"/>
<circle cx="1095.5" cy="517.5" r="2.85" fill="#3f9cc6"/>
<circle cx="1091.2" cy="522.5" r="2.85" fill="#c2409b"/>
<circle cx="1080.0" cy="527.5" r="2.85" fill="#c2409b"/>
<circle cx="1085.0" cy="528.0" r="2.85" fill="#c2409b"/>
<circle cx="1092.5" cy="528.2" r="2.85" fill="#c2409b"/>
<circle cx="1098.8" cy="527.5" r="2.85" fill="#c2409b"/>
<circle cx="1103.8" cy="527.8" r="2.85" fill="#c2409b"/>
<path d="M1077.5,524.2 H1107.5" stroke="#8a8a8a" stroke-width="2.8"/>
<path d="M1077.5,526.8 H1107.5" stroke="#0a0a0a" stroke-width="3.1"/>
<path d="M1128.8,463.0C1128.8,465.4 1128.4,472.6 1129.2,477.5C1130.1,482.4 1132.0,487.5 1133.8,492.5C1135.5,497.5 1138.8,503.3 1140.0,507.5C1141.2,511.7 1141.5,514.8 1141.2,517.5C1141.0,520.2 1139.2,522.9 1138.8,524.0L1114.2,524.0C1113.8,522.9 1111.5,520.2 1111.2,517.5C1111.0,514.8 1111.4,511.7 1112.5,507.5C1113.6,503.3 1116.2,497.5 1118.0,492.5C1119.8,487.5 1122.4,482.4 1123.2,477.5C1124.1,472.6 1123.2,465.4 1123.2,463.0Z" fill="#fff" stroke="#1c1c1c" stroke-width="1.3" stroke-linejoin="round"/>
<circle cx="1125.0" cy="463.2" r="2.85" fill="#3f9cc6"/>
<circle cx="1127.0" cy="493.8" r="2.85" fill="#3f9cc6"/>
<circle cx="1118.8" cy="496.2" r="2.85" fill="#9bc857"/>
<circle cx="1123.2" cy="505.0" r="2.85" fill="#9bc857"/>
<circle cx="1134.2" cy="505.0" r="2.85" fill="#c2409b"/>
<circle cx="1128.8" cy="510.8" r="2.85" fill="#3f9cc6"/>
<circle cx="1117.5" cy="516.2" r="2.85" fill="#c2409b"/>
<circle cx="1132.5" cy="520.0" r="2.85" fill="#c2409b"/>
<circle cx="1119.5" cy="522.0" r="2.85" fill="#3f9cc6"/>
<circle cx="1125.8" cy="523.8" r="2.85" fill="#c2409b"/>
<path d="M1111.2,506.2 H1141.2" stroke="#8a8a8a" stroke-width="2.8"/>
<path d="M1111.2,509.2 H1141.2" stroke="#0a0a0a" stroke-width="3.1"/>
<path d="M1162.5,462.5C1162.4,465.4 1161.6,474.6 1162.0,480.0C1162.4,485.4 1163.5,490.4 1165.0,495.0C1166.5,499.6 1169.6,503.8 1171.2,507.5C1172.9,511.2 1174.8,514.4 1175.0,517.5C1175.2,520.6 1172.9,524.8 1172.5,526.2L1147.5,526.2C1147.0,524.8 1144.5,520.6 1144.5,517.5C1144.5,514.4 1146.0,511.2 1147.5,507.5C1149.0,503.8 1152.2,499.6 1153.8,495.0C1155.3,490.4 1156.5,485.4 1157.0,480.0C1157.5,474.6 1157.0,465.4 1157.0,462.5Z" fill="#fff" stroke="#1c1c1c" stroke-width="1.3" stroke-linejoin="round"/>
<circle cx="1160.0" cy="462.5" r="2.85" fill="#c2409b"/>
<circle cx="1159.2" cy="468.0" r="2.85" fill="#9bc857"/>
<circle cx="1160.0" cy="488.0" r="2.85" fill="#c2409b"/>
<circle cx="1158.2" cy="495.8" r="2.85" fill="#c2409b"/>
<circle cx="1152.0" cy="503.8" r="2.85" fill="#c2409b"/>
<circle cx="1159.2" cy="504.2" r="2.85" fill="#9bc857"/>
<circle cx="1166.8" cy="504.2" r="2.85" fill="#c2409b"/>
<circle cx="1149.5" cy="511.2" r="2.85" fill="#c2409b"/>
<circle cx="1155.5" cy="510.0" r="2.85" fill="#c2409b"/>
<circle cx="1148.8" cy="518.0" r="2.85" fill="#c2409b"/>
<circle cx="1153.8" cy="518.8" r="2.85" fill="#c2409b"/>
<circle cx="1158.8" cy="517.0" r="2.85" fill="#c2409b"/>
<circle cx="1164.2" cy="518.0" r="2.85" fill="#c2409b"/>
<circle cx="1170.0" cy="516.2" r="2.85" fill="#c2409b"/>
<circle cx="1150.0" cy="523.0" r="2.85" fill="#c2409b"/>
<circle cx="1155.5" cy="523.8" r="2.85" fill="#c2409b"/>
<circle cx="1161.2" cy="522.5" r="2.85" fill="#c2409b"/>
<circle cx="1167.0" cy="522.5" r="2.85" fill="#c2409b"/>
<circle cx="1159.5" cy="526.2" r="2.85" fill="#c2409b"/>
<path d="M1144.5,508.2 H1175.0" stroke="#8a8a8a" stroke-width="2.8"/>
<path d="M1144.5,513.0 H1175.0" stroke="#0a0a0a" stroke-width="3.1"/>
<path d="M1205.5,492.5C1205.8,493.0 1207.2,493.0 1207.5,495.5C1207.8,498.0 1207.8,503.0 1207.5,507.5C1207.2,512.0 1205.8,520.2 1205.5,522.8L1179.5,522.8C1179.3,520.2 1178.4,512.0 1178.2,507.5C1178.1,503.0 1178.1,498.0 1178.5,495.5C1178.9,493.0 1180.2,493.0 1180.5,492.5Z" fill="#fff" stroke="#1c1c1c" stroke-width="1.3" stroke-linejoin="round"/>
<circle cx="1184.2" cy="495.5" r="2.85" fill="#c2409b"/>
<circle cx="1195.8" cy="492.5" r="2.85" fill="#9bc857"/>
<circle cx="1196.8" cy="510.0" r="2.85" fill="#3f9cc6"/>
<circle cx="1186.2" cy="521.2" r="2.85" fill="#3f9cc6"/>
<circle cx="1193.2" cy="522.5" r="2.85" fill="#c2409b"/>
<path d="M1178.2,509.5 H1208.2" stroke="#0a0a0a" stroke-width="3.1"/>
<path d="M1178.2,508.8 H1208.2" stroke="#8a8a8a" stroke-width="2.8"/>
<path d="M1239.5,514.2C1240.0,514.8 1242.4,516.2 1242.5,517.5C1242.6,518.8 1240.4,521.2 1240.0,522.0L1215.0,522.0C1214.5,521.2 1212.1,518.8 1212.0,517.5C1211.9,516.2 1214.1,514.8 1214.5,514.2Z" fill="#fff" stroke="#1c1c1c" stroke-width="1.3" stroke-linejoin="round"/>
<circle cx="1220.0" cy="517.5" r="2.85" fill="#c2409b"/>
<circle cx="1233.2" cy="514.5" r="2.85" fill="#3f9cc6"/>
<circle cx="1226.8" cy="521.8" r="2.85" fill="#c2409b"/>
<path d="M1212.0,518.0 H1242.5" stroke="#0a0a0a" stroke-width="3.1"/>
<path d="M1212.0,518.0 H1242.5" stroke="#8a8a8a" stroke-width="2.8"/>
</g>
<g id="t1spike">
<path d="M78.0,874.5 L78.0,890.0" stroke="#1a1a1a" stroke-width="1.5"/>
<circle cx="76.6" cy="874.6" r="2.0" fill="#d2d2d2"/>
<path d="M65.0,892.9 H91.0" stroke="#484848" stroke-width="4.0" stroke-linecap="round"/>
<circle cx="110.0" cy="891.5" r="2.0" fill="#d2d2d2"/>
<circle cx="116.0" cy="892.0" r="2.0" fill="#d2d2d2"/>
<path d="M98.4,891.9 H124.8" stroke="#828282" stroke-width="3.6" stroke-linecap="round"/>
<circle cx="145.0" cy="891.8" r="2.0" fill="#d2d2d2"/>
<path d="M132.3,892.9 H158.1" stroke="#828282" stroke-width="4.2" stroke-linecap="round"/>
<circle cx="178.0" cy="891.8" r="2.0" fill="#d2d2d2"/>
<path d="M165.8,892.9 H191.8" stroke="#828282" stroke-width="4.0" stroke-linecap="round"/>
<path d="M199.2,892.9 H225.6" stroke="#828282" stroke-width="3.6" stroke-linecap="round"/>
<circle cx="246.0" cy="884.8" r="2.5" fill="#d2d2d2"/>
<circle cx="245.8" cy="887.5" r="2.5" fill="#d2d2d2"/>
<circle cx="246.0" cy="890.0" r="2.5" fill="#d2d2d2"/>
<path d="M233.0,892.9 H259.0" stroke="#505050" stroke-width="4.0" stroke-linecap="round"/>
<circle cx="284.0" cy="891.8" r="2.0" fill="#d2d2d2"/>
<path d="M266.3,892.9 H292.9" stroke="#828282" stroke-width="3.4" stroke-linecap="round"/>
<circle cx="316.0" cy="892.0" r="2.0" fill="#d2d2d2"/>
<path d="M299.8,893.3 H326.6" stroke="#828282" stroke-width="3.2" stroke-linecap="round"/>
</g>
<g id="t2spike">
<path d="M383.8,739.2C383.7,741.9 383.3,742.2 383.2,755.0C383.2,767.8 382.9,804.4 383.2,816.2C383.6,828.1 384.6,823.7 385.2,826.2C385.9,828.8 386.0,829.5 387.2,831.8C388.5,834.0 391.1,837.8 392.5,840.0C393.9,842.2 394.6,843.3 395.5,845.0C396.4,846.7 397.4,848.3 397.8,850.0C398.1,851.7 398.0,852.1 397.5,855.0C397.0,857.9 395.8,864.1 394.5,867.5C393.2,870.9 390.8,874.2 390.0,875.5L375.5,875.5C374.8,874.2 372.5,870.9 371.2,867.5C370.0,864.1 368.4,857.9 367.8,855.0C367.1,852.1 367.1,851.7 367.5,850.0C367.9,848.3 368.8,846.7 370.0,845.0C371.2,843.3 373.4,842.2 375.0,840.0C376.6,837.8 378.7,834.0 379.8,831.8C380.8,829.5 381.1,828.8 381.5,826.2C381.9,823.7 382.2,828.1 382.2,816.2C382.3,804.4 382.0,767.8 381.8,755.0C381.5,742.2 380.9,741.9 380.8,739.2Z" fill="#fff" stroke="#1c1c1c" stroke-width="1.3" stroke-linejoin="round"/>
<circle cx="380.8" cy="739.5" r="2.85" fill="#c2409b"/>
<circle cx="385.0" cy="827.5" r="2.85" fill="#c2409b"/>
<circle cx="382.2" cy="833.8" r="2.85" fill="#c2409b"/>
<circle cx="385.2" cy="845.5" r="2.85" fill="#c2409b"/>
<circle cx="376.0" cy="849.8" r="2.85" fill="#c2409b"/>
<circle cx="390.0" cy="850.0" r="2.85" fill="#c2409b"/>
<circle cx="370.8" cy="853.8" r="2.85" fill="#c2409b"/>
<circle cx="383.0" cy="852.0" r="2.85" fill="#c2409b"/>
<circle cx="390.8" cy="855.5" r="2.85" fill="#c2409b"/>
<circle cx="381.2" cy="858.8" r="2.85" fill="#c2409b"/>
<circle cx="376.8" cy="866.5" r="2.85" fill="#c2409b"/>
<circle cx="384.5" cy="866.0" r="2.85" fill="#c2409b"/>
<circle cx="387.0" cy="869.2" r="2.85" fill="#c2409b"/>
<circle cx="379.2" cy="872.5" r="2.85" fill="#c2409b"/>
<circle cx="382.5" cy="875.2" r="2.85" fill="#c2409b"/>
<path d="M367.5,848.2 H398.0" stroke="#8a8a8a" stroke-width="2.8"/>
<path d="M367.5,853.0 H398.0" stroke="#0a0a0a" stroke-width="3.1"/>
<path d="M423.0,741.2C423.2,744.8 424.0,752.7 424.5,762.5C425.0,772.3 425.0,788.3 425.8,800.0C426.5,811.7 427.8,822.9 428.8,832.5C429.7,842.1 431.0,850.4 431.2,857.5C431.5,864.6 430.4,870.6 430.0,875.0C429.6,879.4 429.0,882.3 428.8,883.8L402.5,883.8C402.3,882.3 401.5,879.4 401.2,875.0C401.0,870.6 400.3,864.6 400.8,857.5C401.2,850.4 402.8,842.1 403.8,832.5C404.8,822.9 405.9,811.7 406.8,800.0C407.6,788.3 408.2,772.3 408.8,762.5C409.3,752.7 409.8,744.8 410.0,741.2Z" fill="#fff" stroke="#1c1c1c" stroke-width="1.3" stroke-linejoin="round"/>
<circle cx="416.8" cy="741.2" r="2.85" fill="#c2409b"/>
<circle cx="411.8" cy="755.8" r="2.85" fill="#c2409b"/>
<circle cx="418.8" cy="797.5" r="2.85" fill="#c2409b"/>
<circle cx="415.0" cy="827.0" r="2.85" fill="#c2409b"/>
<circle cx="419.2" cy="863.8" r="2.85" fill="#c2409b"/>
<circle cx="406.2" cy="870.0" r="2.85" fill="#9bc857"/>
<circle cx="423.0" cy="877.5" r="2.85" fill="#c2409b"/>
<circle cx="410.0" cy="880.5" r="2.85" fill="#c2409b"/>
<circle cx="416.2" cy="883.8" r="2.85" fill="#c2409b"/>
<path d="M401.2,833.0 H431.2" stroke="#8a8a8a" stroke-width="2.8"/>
<path d="M401.2,863.8 H431.2" stroke="#0a0a0a" stroke-width="3.1"/>
<path d="M452.2,813.8C452.3,816.0 452.4,821.5 452.5,827.5C452.6,833.5 452.7,844.6 453.1,850.0C453.5,855.4 453.9,856.7 455.0,860.0C456.1,863.3 458.4,867.1 460.0,870.0C461.6,872.9 463.5,875.0 464.4,877.5C465.2,880.0 465.5,882.5 465.0,885.0C464.5,887.5 463.1,890.8 461.2,892.5C459.4,894.2 455.0,894.8 453.8,895.2L446.2,895.2C445.0,894.8 440.7,894.2 438.8,892.5C436.8,890.8 435.0,887.5 434.4,885.0C433.8,882.5 434.1,880.0 435.0,877.5C435.9,875.0 438.3,872.9 440.0,870.0C441.7,867.1 443.8,863.3 445.0,860.0C446.2,856.7 446.8,855.4 447.2,850.0C447.7,844.6 447.7,833.5 447.9,827.5C448.0,821.5 448.1,816.0 448.1,813.8Z" fill="#fff" stroke="#1c1c1c" stroke-width="1.3" stroke-linejoin="round"/>
<circle cx="450.4" cy="814.0" r="2.85" fill="#9bc857"/>
<circle cx="450.4" cy="826.2" r="2.85" fill="#c2409b"/>
<circle cx="448.5" cy="834.5" r="2.85" fill="#9bc857"/>
<circle cx="450.4" cy="841.5" r="2.85" fill="#c2409b"/>
<circle cx="449.0" cy="855.0" r="2.85" fill="#c2409b"/>
<circle cx="446.5" cy="859.5" r="2.85" fill="#c2409b"/>
<circle cx="452.5" cy="859.5" r="2.85" fill="#c2409b"/>
<circle cx="449.5" cy="857.5" r="2.85" fill="#c2409b"/>
<circle cx="451.2" cy="862.5" r="2.85" fill="#c2409b"/>
<circle cx="448.0" cy="863.0" r="2.85" fill="#c2409b"/>
<circle cx="450.0" cy="861.2" r="2.85" fill="#c2409b"/>
<circle cx="448.0" cy="869.5" r="2.85" fill="#c2409b"/>
<circle cx="445.0" cy="868.0" r="2.85" fill="#c2409b"/>
<circle cx="454.5" cy="867.0" r="2.85" fill="#c2409b"/>
<circle cx="453.1" cy="887.6" r="2.85" fill="#c2409b"/>
<circle cx="458.5" cy="888.2" r="2.85" fill="#c2409b"/>
<circle cx="453.7" cy="890.3" r="2.85" fill="#c2409b"/>
<circle cx="446.8" cy="889.8" r="2.85" fill="#c2409b"/>
<circle cx="451.1" cy="884.8" r="2.85" fill="#c2409b"/>
<circle cx="455.8" cy="881.9" r="2.85" fill="#c2409b"/>
<circle cx="460.4" cy="888.0" r="2.85" fill="#c2409b"/>
<circle cx="456.5" cy="876.2" r="2.85" fill="#c2409b"/>
<circle cx="440.7" cy="875.0" r="2.85" fill="#c2409b"/>
<circle cx="442.7" cy="878.7" r="2.85" fill="#c2409b"/>
<circle cx="459.3" cy="879.9" r="2.85" fill="#c2409b"/>
<circle cx="451.0" cy="886.5" r="2.85" fill="#c2409b"/>
<circle cx="442.0" cy="891.5" r="2.85" fill="#c2409b"/>
<circle cx="461.7" cy="890.2" r="2.85" fill="#c2409b"/>
<circle cx="438.0" cy="882.1" r="2.85" fill="#c2409b"/>
<circle cx="444.1" cy="880.6" r="2.85" fill="#c2409b"/>
<circle cx="452.4" cy="887.0" r="2.85" fill="#c2409b"/>
<circle cx="445.2" cy="888.9" r="2.85" fill="#c2409b"/>
<circle cx="454.9" cy="878.1" r="2.85" fill="#c2409b"/>
<circle cx="455.1" cy="876.0" r="2.85" fill="#c2409b"/>
<circle cx="461.2" cy="881.1" r="2.85" fill="#c2409b"/>
<circle cx="438.0" cy="888.4" r="2.85" fill="#c2409b"/>
<circle cx="446.9" cy="889.3" r="2.85" fill="#c2409b"/>
<circle cx="438.7" cy="878.1" r="2.85" fill="#c2409b"/>
<circle cx="440.5" cy="879.2" r="2.85" fill="#c2409b"/>
<circle cx="446.1" cy="881.0" r="2.85" fill="#c2409b"/>
<circle cx="456.9" cy="876.8" r="2.85" fill="#c2409b"/>
<circle cx="459.0" cy="875.6" r="2.85" fill="#c2409b"/>
<circle cx="442.7" cy="883.7" r="2.85" fill="#c2409b"/>
<circle cx="460.5" cy="880.8" r="2.85" fill="#c2409b"/>
<circle cx="445.3" cy="880.4" r="2.85" fill="#c2409b"/>
<circle cx="457.5" cy="885.7" r="2.85" fill="#c2409b"/>
<circle cx="462.4" cy="877.7" r="2.85" fill="#c2409b"/>
<circle cx="439.5" cy="885.2" r="2.85" fill="#c2409b"/>
<circle cx="438.3" cy="887.6" r="2.85" fill="#c2409b"/>
<circle cx="458.2" cy="882.7" r="2.85" fill="#c2409b"/>
<circle cx="441.1" cy="891.6" r="2.85" fill="#c2409b"/>
<circle cx="457.5" cy="880.7" r="2.85" fill="#c2409b"/>
<circle cx="440.8" cy="887.4" r="2.85" fill="#c2409b"/>
<circle cx="453.3" cy="888.4" r="2.85" fill="#c2409b"/>
<circle cx="441.7" cy="881.3" r="2.85" fill="#c2409b"/>
<circle cx="458.6" cy="880.0" r="2.85" fill="#c2409b"/>
<circle cx="460.6" cy="885.5" r="2.85" fill="#c2409b"/>
<circle cx="461.9" cy="882.7" r="2.85" fill="#c2409b"/>
<circle cx="449.5" cy="891.7" r="2.85" fill="#c2409b"/>
<circle cx="446.1" cy="893.0" r="2.85" fill="#c2409b"/>
<circle cx="450.0" cy="894.0" r="2.85" fill="#c2409b"/>
<circle cx="447.9" cy="894.2" r="2.85" fill="#c2409b"/>
<circle cx="452.9" cy="890.8" r="2.85" fill="#c2409b"/>
<circle cx="455.6" cy="891.9" r="2.85" fill="#c2409b"/>
<circle cx="444.6" cy="873.8" r="2.85" fill="#c2409b"/>
<circle cx="449.7" cy="871.9" r="2.85" fill="#c2409b"/>
<circle cx="454.9" cy="873.0" r="2.85" fill="#c2409b"/>
<circle cx="454.6" cy="871.1" r="2.85" fill="#c2409b"/>
<circle cx="443.1" cy="874.2" r="2.85" fill="#c2409b"/>
<circle cx="456.7" cy="873.8" r="2.85" fill="#c2409b"/>
<circle cx="458.0" cy="874.0" r="2.85" fill="#c2409b"/>
<circle cx="451.9" cy="871.1" r="2.85" fill="#c2409b"/>
<circle cx="451.5" cy="868.2" r="2.85" fill="#9bc857"/>
<path d="M434.5,873.1 H465.0" stroke="#8a8a8a" stroke-width="2.8"/>
<path d="M434.5,879.8 H465.0" stroke="#0a0a0a" stroke-width="3.1"/>
<path d="M486.2,872.5C487.5,873.5 491.7,876.5 493.8,878.8C495.8,881.0 498.2,883.8 498.8,886.2C499.3,888.8 497.3,892.5 497.0,893.8L470.0,893.8C469.7,892.5 467.6,888.8 468.2,886.2C468.9,883.8 471.7,881.0 473.8,878.8C475.8,876.5 479.6,873.5 480.8,872.5Z" fill="#fff" stroke="#1c1c1c" stroke-width="1.3" stroke-linejoin="round"/>
<circle cx="480.5" cy="873.2" r="2.85" fill="#c2409b"/>
<circle cx="477.5" cy="878.8" r="2.85" fill="#c2409b"/>
<circle cx="483.8" cy="878.0" r="2.85" fill="#c2409b"/>
<circle cx="490.0" cy="878.8" r="2.85" fill="#c2409b"/>
<circle cx="481.2" cy="882.5" r="2.85" fill="#c2409b"/>
<circle cx="486.2" cy="883.8" r="2.85" fill="#c2409b"/>
<circle cx="472.5" cy="886.2" r="2.85" fill="#c2409b"/>
<circle cx="492.5" cy="886.2" r="2.85" fill="#c2409b"/>
<circle cx="477.5" cy="888.8" r="2.85" fill="#c2409b"/>
<circle cx="483.8" cy="889.5" r="2.85" fill="#c2409b"/>
<circle cx="488.8" cy="890.0" r="2.85" fill="#c2409b"/>
<circle cx="472.5" cy="892.0" r="2.85" fill="#c2409b"/>
<circle cx="480.0" cy="892.5" r="2.85" fill="#c2409b"/>
<circle cx="485.0" cy="893.0" r="2.85" fill="#c2409b"/>
<circle cx="493.8" cy="891.2" r="2.85" fill="#c2409b"/>
<circle cx="475.0" cy="883.0" r="2.85" fill="#c2409b"/>
<path d="M468.2,886.2 H498.8" stroke="#8a8a8a" stroke-width="2.8"/>
<path d="M520.5,818.8C520.2,819.8 519.3,823.0 519.0,825.0C518.7,827.0 518.2,828.4 518.5,830.5C518.8,832.6 519.5,834.9 520.5,837.5C521.5,840.1 522.9,842.5 524.5,846.2C526.1,850.0 528.8,856.0 530.0,860.0C531.2,864.0 532.4,866.2 532.0,870.0C531.6,873.8 528.7,878.9 527.5,882.5C526.3,886.1 525.4,890.0 525.0,891.5L508.8,891.5C508.1,890.0 506.2,886.1 505.0,882.5C503.8,878.9 502.0,873.8 501.8,870.0C501.5,866.2 502.5,864.0 503.8,860.0C505.0,856.0 507.6,850.0 509.5,846.2C511.4,842.5 513.7,840.1 515.0,837.5C516.3,834.9 517.2,832.6 517.5,830.5C517.8,828.4 516.9,827.0 516.5,825.0C516.1,823.0 515.2,819.8 515.0,818.8Z" fill="#fff" stroke="#1c1c1c" stroke-width="1.3" stroke-linejoin="round"/>
<circle cx="515.5" cy="819.2" r="2.85" fill="#c2409b"/>
<circle cx="517.5" cy="845.8" r="2.85" fill="#9bc857"/>
<circle cx="509.2" cy="859.2" r="2.85" fill="#c2409b"/>
<circle cx="524.2" cy="862.0" r="2.85" fill="#c2409b"/>
<circle cx="513.2" cy="868.0" r="2.85" fill="#c2409b"/>
<circle cx="505.0" cy="873.2" r="2.85" fill="#c2409b"/>
<circle cx="522.0" cy="875.8" r="2.85" fill="#c2409b"/>
<circle cx="513.8" cy="886.2" r="2.85" fill="#c2409b"/>
<circle cx="517.0" cy="891.2" r="2.85" fill="#c2409b"/>
<circle cx="519.2" cy="868.8" r="2.85" fill="#c2409b"/>
<path d="M501.8,865.5 H532.0" stroke="#8a8a8a" stroke-width="2.8"/>
<path d="M501.8,869.2 H532.0" stroke="#0a0a0a" stroke-width="3.1"/>
<path d="M552.5,763.8C552.4,768.1 551.8,783.1 552.0,790.0C552.2,796.9 553.7,800.0 553.8,805.0C553.8,810.0 552.5,814.2 552.5,820.0C552.5,825.8 552.5,834.2 553.8,840.0C555.0,845.8 557.9,850.0 560.0,855.0C562.1,860.0 565.6,865.4 566.2,870.0C566.9,874.6 565.4,879.1 563.8,882.5C562.1,885.9 557.5,889.0 556.2,890.2L545.0,890.2C543.8,889.0 539.1,885.9 537.5,882.5C535.9,879.1 534.9,874.6 535.5,870.0C536.1,865.4 539.2,860.0 541.2,855.0C543.2,850.0 546.0,845.8 547.5,840.0C549.0,834.2 549.8,825.8 550.0,820.0C550.2,814.2 548.7,810.0 548.8,805.0C548.8,800.0 550.3,796.9 550.5,790.0C550.7,783.1 550.1,768.1 550.0,763.8Z" fill="#fff" stroke="#1c1c1c" stroke-width="1.3" stroke-linejoin="round"/>
<circle cx="552.0" cy="764.2" r="2.85" fill="#c2409b"/>
<circle cx="548.8" cy="808.2" r="2.85" fill="#c2409b"/>
<circle cx="551.2" cy="808.8" r="2.85" fill="#9bc857"/>
<circle cx="548.8" cy="843.8" r="2.85" fill="#c2409b"/>
<circle cx="553.8" cy="853.8" r="2.85" fill="#9bc857"/>
<circle cx="548.8" cy="856.2" r="2.85" fill="#c2409b"/>
<circle cx="552.5" cy="857.5" r="2.85" fill="#c2409b"/>
<circle cx="545.0" cy="862.0" r="2.85" fill="#c2409b"/>
<circle cx="556.2" cy="862.5" r="2.85" fill="#c2409b"/>
<circle cx="540.0" cy="867.0" r="2.85" fill="#c2409b"/>
<circle cx="550.0" cy="868.8" r="2.85" fill="#c2409b"/>
<circle cx="538.8" cy="873.2" r="2.85" fill="#c2409b"/>
<circle cx="543.8" cy="875.0" r="2.85" fill="#c2409b"/>
<circle cx="550.0" cy="874.2" r="2.85" fill="#c2409b"/>
<circle cx="556.2" cy="873.8" r="2.85" fill="#c2409b"/>
<circle cx="561.2" cy="872.5" r="2.85" fill="#c2409b"/>
<circle cx="541.2" cy="878.8" r="2.85" fill="#c2409b"/>
<circle cx="547.5" cy="879.5" r="2.85" fill="#c2409b"/>
<circle cx="553.8" cy="878.8" r="2.85" fill="#c2409b"/>
<circle cx="558.8" cy="878.0" r="2.85" fill="#c2409b"/>
<circle cx="542.5" cy="884.5" r="2.85" fill="#c2409b"/>
<circle cx="548.8" cy="885.0" r="2.85" fill="#c2409b"/>
<circle cx="555.0" cy="883.8" r="2.85" fill="#c2409b"/>
<circle cx="550.0" cy="890.0" r="2.85" fill="#c2409b"/>
<path d="M535.5,863.0 H565.8" stroke="#8a8a8a" stroke-width="2.8"/>
<path d="M535.5,869.2 H565.8" stroke="#0a0a0a" stroke-width="3.1"/>
<path d="M590.8,855.8C591.0,857.7 591.4,863.9 592.5,867.5C593.6,871.1 596.3,874.6 597.5,877.5C598.7,880.4 599.5,882.4 599.5,885.0C599.5,887.6 597.8,891.7 597.5,893.0L570.0,893.0C569.8,891.7 568.7,887.6 568.8,885.0C568.8,882.4 569.2,880.4 570.5,877.5C571.8,874.6 575.0,871.1 576.2,867.5C577.5,863.9 577.7,857.7 578.0,855.8Z" fill="#fff" stroke="#1c1c1c" stroke-width="1.3" stroke-linejoin="round"/>
<circle cx="582.5" cy="856.2" r="2.85" fill="#c2409b"/>
<circle cx="585.0" cy="866.8" r="2.85" fill="#9bc857"/>
<circle cx="576.2" cy="884.2" r="2.85" fill="#c2409b"/>
<circle cx="590.0" cy="885.0" r="2.85" fill="#c2409b"/>
<circle cx="577.5" cy="892.0" r="2.85" fill="#c2409b"/>
<circle cx="583.8" cy="892.5" r="2.85" fill="#c2409b"/>
<path d="M568.8,879.2 H599.5" stroke="#8a8a8a" stroke-width="2.8"/>
<path d="M568.8,884.5 H599.5" stroke="#0a0a0a" stroke-width="3.1"/>
<path d="M626.2,818.0C626.7,821.7 627.8,833.0 628.8,840.0C629.7,847.0 631.6,854.2 632.0,860.0C632.4,865.8 631.8,869.7 631.2,875.0C630.7,880.3 629.2,889.0 628.8,891.8L603.8,891.8C603.6,889.0 603.2,880.3 603.0,875.0C602.8,869.7 602.0,865.8 602.5,860.0C603.0,854.2 604.6,847.0 605.8,840.0C606.9,833.0 608.7,821.7 609.2,818.0Z" fill="#fff" stroke="#1c1c1c" stroke-width="1.3" stroke-linejoin="round"/>
<circle cx="624.2" cy="818.0" r="2.85" fill="#c2409b"/>
<circle cx="615.0" cy="824.2" r="2.85" fill="#c2409b"/>
<circle cx="619.2" cy="852.5" r="2.85" fill="#c2409b"/>
<circle cx="610.8" cy="866.8" r="2.85" fill="#c2409b"/>
<circle cx="623.8" cy="877.5" r="2.85" fill="#c2409b"/>
<circle cx="611.2" cy="888.0" r="2.85" fill="#c2409b"/>
<circle cx="617.5" cy="891.8" r="2.85" fill="#c2409b"/>
<path d="M602.5,860.0 H632.5" stroke="#8a8a8a" stroke-width="2.8"/>
<path d="M602.5,866.8 H632.5" stroke="#0a0a0a" stroke-width="3.1"/>
</g>
<g id="t3spike">
<path d="M700.0,680.5C700.3,683.8 701.5,692.6 701.8,700.0C702.0,707.4 701.5,716.7 701.2,725.0C701.0,733.3 700.8,739.6 700.0,750.0C699.2,760.4 697.3,775.0 696.2,787.5C695.2,800.0 694.4,812.5 693.8,825.0C693.1,837.5 692.8,852.2 692.5,862.5C692.2,872.8 692.1,882.9 692.0,887.0L682.0,887.0C681.9,882.9 681.6,872.8 681.2,862.5C680.9,852.2 680.6,837.5 680.0,825.0C679.4,812.5 678.5,800.0 677.5,787.5C676.5,775.0 674.6,760.4 673.8,750.0C672.9,739.6 672.6,733.3 672.5,725.0C672.4,716.7 672.6,707.4 673.0,700.0C673.4,692.6 674.7,683.8 675.0,680.5Z" fill="#fff" stroke="#1c1c1c" stroke-width="1.3" stroke-linejoin="round"/>
<circle cx="685.0" cy="681.2" r="2.85" fill="#c2409b"/>
<circle cx="697.0" cy="680.5" r="2.85" fill="#c2409b"/>
<circle cx="678.0" cy="686.2" r="2.85" fill="#c2409b"/>
<circle cx="690.8" cy="684.5" r="2.85" fill="#c2409b"/>
<circle cx="694.5" cy="687.5" r="2.85" fill="#c2409b"/>
<circle cx="681.2" cy="689.5" r="2.85" fill="#c2409b"/>
<circle cx="688.0" cy="700.8" r="2.85" fill="#c2409b"/>
<circle cx="678.0" cy="710.8" r="2.85" fill="#c2409b"/>
<circle cx="695.5" cy="722.8" r="2.85" fill="#3f9cc6"/>
<circle cx="685.8" cy="732.5" r="2.85" fill="#c2409b"/>
<circle cx="690.8" cy="733.2" r="2.85" fill="#c2409b"/>
<circle cx="680.0" cy="743.0" r="2.85" fill="#c2409b"/>
<circle cx="683.8" cy="758.2" r="2.85" fill="#c2409b"/>
<circle cx="688.8" cy="758.2" r="2.85" fill="#c2409b"/>
<circle cx="693.8" cy="757.5" r="2.85" fill="#c2409b"/>
<circle cx="679.2" cy="767.5" r="2.85" fill="#c2409b"/>
<circle cx="691.2" cy="782.0" r="2.85" fill="#c2409b"/>
<circle cx="686.2" cy="812.0" r="2.85" fill="#c2409b"/>
<circle cx="688.2" cy="820.0" r="2.85" fill="#c2409b"/>
<circle cx="683.8" cy="851.5" r="2.85" fill="#c2409b"/>
<circle cx="690.0" cy="861.5" r="2.85" fill="#c2409b"/>
<circle cx="684.2" cy="880.0" r="2.85" fill="#c2409b"/>
<circle cx="687.5" cy="887.0" r="2.85" fill="#c2409b"/>
<path d="M672.0,755.5 H702.0" stroke="#8a8a8a" stroke-width="2.8"/>
<path d="M672.0,742.8 H702.0" stroke="#0a0a0a" stroke-width="3.1"/>
<path d="M730.5,707.5C731.4,709.0 735.0,712.5 735.8,716.2C736.5,720.0 736.2,725.2 735.0,730.0C733.8,734.8 730.5,740.8 728.8,745.0C727.0,749.2 725.1,752.4 724.2,755.0C723.4,757.6 723.8,759.8 723.8,760.8L718.0,760.8C717.9,759.8 718.4,757.6 717.5,755.0C716.6,752.4 714.4,749.2 712.5,745.0C710.6,740.8 707.4,734.8 706.2,730.0C705.1,725.2 704.8,720.0 705.5,716.2C706.2,712.5 709.9,709.0 710.8,707.5Z" fill="#fff" stroke="#1c1c1c" stroke-width="1.3" stroke-linejoin="round"/>
<circle cx="721.8" cy="707.8" r="2.85" fill="#c2409b"/>
<circle cx="710.0" cy="712.5" r="2.85" fill="#c2409b"/>
<circle cx="730.8" cy="715.8" r="2.85" fill="#3f9cc6"/>
<circle cx="717.5" cy="718.8" r="2.85" fill="#c2409b"/>
<circle cx="713.2" cy="729.5" r="2.85" fill="#3f9cc6"/>
<circle cx="725.0" cy="734.2" r="2.85" fill="#3f9cc6"/>
<circle cx="717.5" cy="740.5" r="2.85" fill="#c2409b"/>
<circle cx="720.5" cy="760.8" r="2.85" fill="#3f9cc6"/>
<path d="M705.8,726.8 H735.8" stroke="#8a8a8a" stroke-width="2.8"/>
<path d="M705.8,725.0 H735.8" stroke="#0a0a0a" stroke-width="3.1"/>
<path d="M763.2,689.2C763.8,693.1 765.5,702.4 766.2,712.5C767.0,722.6 767.5,737.5 768.0,750.0C768.5,762.5 769.4,775.0 769.5,787.5C769.6,800.0 769.2,812.5 768.8,825.0C768.3,837.5 767.8,853.1 767.0,862.5C766.2,871.9 764.3,878.1 763.8,881.2L745.8,881.2C745.1,878.1 743.0,871.9 742.0,862.5C741.0,853.1 740.4,837.5 740.0,825.0C739.6,812.5 739.4,800.0 739.5,787.5C739.6,775.0 740.2,762.5 740.8,750.0C741.2,737.5 741.8,722.6 742.5,712.5C743.2,702.4 744.6,693.1 745.0,689.2Z" fill="#fff" stroke="#1c1c1c" stroke-width="1.3" stroke-linejoin="round"/>
<circle cx="759.5" cy="689.2" r="2.85" fill="#9bc857"/>
<circle cx="753.2" cy="692.5" r="2.85" fill="#c2409b"/>
<circle cx="756.2" cy="701.2" r="2.85" fill="#c2409b"/>
<circle cx="748.0" cy="704.5" r="2.85" fill="#9bc857"/>
<circle cx="743.8" cy="706.2" r="2.85" fill="#c2409b"/>
<circle cx="758.8" cy="711.8" r="2.85" fill="#9bc857"/>
<circle cx="750.0" cy="723.2" r="2.85" fill="#c2409b"/>
<circle cx="745.0" cy="724.2" r="2.85" fill="#c2409b"/>
<circle cx="755.0" cy="724.2" r="2.85" fill="#c2409b"/>
<circle cx="762.5" cy="731.2" r="2.85" fill="#c2409b"/>
<circle cx="753.8" cy="736.2" r="2.85" fill="#9bc857"/>
<circle cx="758.0" cy="755.5" r="2.85" fill="#c2409b"/>
<circle cx="748.2" cy="759.5" r="2.85" fill="#c2409b"/>
<circle cx="761.8" cy="760.8" r="2.85" fill="#c2409b"/>
<circle cx="750.0" cy="766.2" r="2.85" fill="#c2409b"/>
<circle cx="757.0" cy="766.8" r="2.85" fill="#c2409b"/>
<circle cx="743.2" cy="775.0" r="2.85" fill="#c2409b"/>
<circle cx="752.0" cy="777.5" r="2.85" fill="#3f9cc6"/>
<circle cx="758.2" cy="775.0" r="2.85" fill="#c2409b"/>
<circle cx="765.0" cy="775.0" r="2.85" fill="#c2409b"/>
<circle cx="746.2" cy="780.8" r="2.85" fill="#c2409b"/>
<circle cx="759.5" cy="794.2" r="2.85" fill="#c2409b"/>
<circle cx="750.0" cy="802.5" r="2.85" fill="#c2409b"/>
<circle cx="745.0" cy="812.5" r="2.85" fill="#c2409b"/>
<circle cx="754.5" cy="812.5" r="2.85" fill="#c2409b"/>
<circle cx="763.0" cy="815.8" r="2.85" fill="#c2409b"/>
<circle cx="752.5" cy="818.2" r="2.85" fill="#c2409b"/>
<circle cx="758.2" cy="826.5" r="2.85" fill="#c2409b"/>
<circle cx="748.0" cy="835.0" r="2.85" fill="#c2409b"/>
<circle cx="760.8" cy="835.5" r="2.85" fill="#c2409b"/>
<circle cx="750.0" cy="838.8" r="2.85" fill="#c2409b"/>
<circle cx="755.8" cy="850.8" r="2.85" fill="#c2409b"/>
<circle cx="744.5" cy="854.2" r="2.85" fill="#c2409b"/>
<circle cx="763.2" cy="854.5" r="2.85" fill="#c2409b"/>
<circle cx="751.2" cy="861.2" r="2.85" fill="#c2409b"/>
<circle cx="757.5" cy="864.5" r="2.85" fill="#c2409b"/>
<circle cx="745.8" cy="866.2" r="2.85" fill="#c2409b"/>
<circle cx="760.0" cy="867.5" r="2.85" fill="#c2409b"/>
<circle cx="750.0" cy="876.2" r="2.85" fill="#c2409b"/>
<circle cx="754.2" cy="881.2" r="2.85" fill="#c2409b"/>
<path d="M739.5,790.0 H769.5" stroke="#8a8a8a" stroke-width="2.8"/>
<path d="M739.5,781.8 H769.5" stroke="#0a0a0a" stroke-width="3.1"/>
<path d="M795.0,690.0C795.5,693.8 797.2,704.6 798.0,712.5C798.8,720.4 798.8,727.9 799.5,737.5C800.2,747.1 801.5,759.6 802.0,770.0C802.5,780.4 802.8,788.8 802.5,800.0C802.2,811.2 800.8,826.2 800.0,837.5C799.2,848.8 798.5,859.0 797.5,867.5C796.5,876.0 794.4,884.8 793.8,888.2L782.0,888.2C781.4,884.8 779.4,876.0 778.2,867.5C777.1,859.0 775.9,848.8 775.0,837.5C774.1,826.2 773.2,811.2 773.0,800.0C772.8,788.8 773.4,780.4 773.8,770.0C774.1,759.6 774.5,747.1 775.0,737.5C775.5,727.9 776.2,720.4 777.0,712.5C777.8,704.6 779.5,693.8 780.0,690.0Z" fill="#fff" stroke="#1c1c1c" stroke-width="1.3" stroke-linejoin="round"/>
<circle cx="792.5" cy="690.0" r="2.85" fill="#c2409b"/>
<circle cx="787.5" cy="700.8" r="2.85" fill="#c2409b"/>
<circle cx="790.8" cy="731.2" r="2.85" fill="#c2409b"/>
<circle cx="781.2" cy="740.0" r="2.85" fill="#3f9cc6"/>
<circle cx="795.0" cy="749.2" r="2.85" fill="#c2409b"/>
<circle cx="783.2" cy="763.8" r="2.85" fill="#c2409b"/>
<circle cx="789.2" cy="769.5" r="2.85" fill="#c2409b"/>
<circle cx="779.2" cy="773.0" r="2.85" fill="#c2409b"/>
<circle cx="795.8" cy="820.0" r="2.85" fill="#c2409b"/>
<circle cx="785.0" cy="823.2" r="2.85" fill="#c2409b"/>
<circle cx="791.2" cy="828.0" r="2.85" fill="#c2409b"/>
<circle cx="778.0" cy="843.8" r="2.85" fill="#3f9cc6"/>
<circle cx="794.2" cy="844.2" r="2.85" fill="#c2409b"/>
<circle cx="783.2" cy="853.8" r="2.85" fill="#c2409b"/>
<circle cx="788.0" cy="888.0" r="2.85" fill="#c2409b"/>
<path d="M773.0,787.8 H803.0" stroke="#8a8a8a" stroke-width="2.8"/>
<path d="M773.0,773.0 H803.0" stroke="#0a0a0a" stroke-width="3.1"/>
<path d="M825.5,715.5C825.6,718.3 825.6,726.8 826.2,732.5C826.9,738.2 827.8,744.6 829.5,750.0C831.2,755.4 834.9,760.8 836.2,765.0C837.6,769.2 838.1,771.2 837.5,775.0C836.9,778.8 834.4,783.3 832.5,787.5C830.6,791.7 827.5,795.6 826.2,800.0C825.0,804.4 825.2,811.5 825.0,813.8L818.8,813.8C818.6,811.5 819.2,804.4 818.0,800.0C816.8,795.6 813.1,791.7 811.2,787.5C809.4,783.3 807.5,778.8 807.0,775.0C806.5,771.2 806.8,769.2 808.0,765.0C809.2,760.8 812.8,755.4 814.2,750.0C815.8,744.6 816.5,738.2 817.0,732.5C817.5,726.8 817.4,718.3 817.5,715.5Z" fill="#fff" stroke="#1c1c1c" stroke-width="1.3" stroke-linejoin="round"/>
<circle cx="820.5" cy="715.8" r="2.85" fill="#3f9cc6"/>
<circle cx="822.5" cy="731.2" r="2.85" fill="#3f9cc6"/>
<circle cx="818.0" cy="749.2" r="2.85" fill="#9bc857"/>
<circle cx="824.2" cy="757.5" r="2.85" fill="#3f9cc6"/>
<circle cx="819.5" cy="769.5" r="2.85" fill="#3f9cc6"/>
<circle cx="825.8" cy="772.5" r="2.85" fill="#3f9cc6"/>
<circle cx="811.2" cy="775.0" r="2.85" fill="#c2409b"/>
<circle cx="816.2" cy="779.2" r="2.85" fill="#c2409b"/>
<circle cx="827.5" cy="778.8" r="2.85" fill="#c2409b"/>
<circle cx="821.2" cy="813.2" r="2.85" fill="#c2409b"/>
<path d="M806.2,764.2 H836.8" stroke="#8a8a8a" stroke-width="2.8"/>
<path d="M806.2,772.2 H836.8" stroke="#0a0a0a" stroke-width="3.1"/>
<path d="M865.0,689.2C865.6,691.9 867.8,699.0 868.8,705.0C869.7,711.0 870.5,717.5 870.5,725.0C870.5,732.5 869.9,741.7 868.8,750.0C867.6,758.3 865.4,766.7 863.8,775.0C862.1,783.3 859.9,791.7 858.8,800.0C857.6,808.3 857.3,817.4 857.0,825.0C856.7,832.6 857.0,842.3 857.0,845.8L853.8,845.8C853.7,842.3 853.8,832.6 853.2,825.0C852.8,817.4 852.0,808.3 850.8,800.0C849.5,791.7 847.1,783.3 845.5,775.0C843.9,766.7 842.2,758.3 841.2,750.0C840.3,741.7 840.0,732.5 840.0,725.0C840.0,717.5 840.4,711.0 841.2,705.0C842.1,699.0 844.4,691.9 845.0,689.2Z" fill="#fff" stroke="#1c1c1c" stroke-width="1.3" stroke-linejoin="round"/>
<circle cx="854.2" cy="689.5" r="2.85" fill="#c2409b"/>
<circle cx="857.5" cy="693.0" r="2.85" fill="#c2409b"/>
<circle cx="847.5" cy="701.2" r="2.85" fill="#c2409b"/>
<circle cx="862.0" cy="705.5" r="2.85" fill="#c2409b"/>
<circle cx="849.5" cy="708.0" r="2.85" fill="#c2409b"/>
<circle cx="855.8" cy="709.2" r="2.85" fill="#c2409b"/>
<circle cx="843.2" cy="714.2" r="2.85" fill="#c2409b"/>
<circle cx="866.2" cy="715.0" r="2.85" fill="#c2409b"/>
<circle cx="853.2" cy="721.2" r="2.85" fill="#c2409b"/>
<circle cx="858.8" cy="727.5" r="2.85" fill="#c2409b"/>
<circle cx="860.0" cy="738.0" r="2.85" fill="#9bc857"/>
<circle cx="852.0" cy="744.5" r="2.85" fill="#c2409b"/>
<circle cx="855.8" cy="753.0" r="2.85" fill="#c2409b"/>
<circle cx="848.2" cy="759.5" r="2.85" fill="#c2409b"/>
<circle cx="860.8" cy="764.2" r="2.85" fill="#c2409b"/>
<circle cx="853.8" cy="774.2" r="2.85" fill="#c2409b"/>
<circle cx="857.5" cy="774.2" r="2.85" fill="#c2409b"/>
<circle cx="849.2" cy="790.0" r="2.85" fill="#c2409b"/>
<circle cx="852.0" cy="793.2" r="2.85" fill="#c2409b"/>
<circle cx="858.8" cy="792.5" r="2.85" fill="#c2409b"/>
<circle cx="855.0" cy="845.8" r="2.85" fill="#c2409b"/>
<path d="M840.0,742.8 H870.0" stroke="#8a8a8a" stroke-width="2.8"/>
<path d="M840.0,735.0 H870.0" stroke="#0a0a0a" stroke-width="3.1"/>
<path d="M900.5,723.0C901.1,724.6 903.7,728.0 904.2,732.5C904.8,737.0 904.7,744.2 903.8,750.0C902.8,755.8 900.0,761.7 898.8,767.5C897.5,773.3 896.8,779.7 896.2,785.0C895.7,790.3 895.6,797.1 895.5,799.5L882.0,799.5C881.9,797.1 881.8,790.3 881.2,785.0C880.7,779.7 880.0,773.3 878.8,767.5C877.5,761.7 874.7,755.8 873.8,750.0C872.8,744.2 872.7,737.0 873.2,732.5C873.8,728.0 876.4,724.6 877.0,723.0Z" fill="#fff" stroke="#1c1c1c" stroke-width="1.3" stroke-linejoin="round"/>
<circle cx="890.8" cy="723.0" r="2.85" fill="#c2409b"/>
<circle cx="878.8" cy="736.2" r="2.85" fill="#3f9cc6"/>
<circle cx="894.5" cy="742.5" r="2.85" fill="#c2409b"/>
<circle cx="885.8" cy="770.0" r="2.85" fill="#9bc857"/>
<circle cx="888.8" cy="799.5" r="2.85" fill="#c2409b"/>
<path d="M873.2,753.8 H903.8" stroke="#8a8a8a" stroke-width="2.8"/>
<path d="M873.2,741.8 H903.8" stroke="#0a0a0a" stroke-width="3.1"/>
<path d="M933.8,729.5C934.3,731.7 936.3,737.4 937.0,742.5C937.7,747.6 938.5,753.8 938.0,760.0C937.5,766.2 935.5,772.5 933.8,780.0C932.0,787.5 929.0,796.7 927.5,805.0C926.0,813.3 925.4,821.9 925.0,830.0C924.6,838.1 925.0,849.8 925.0,853.8L919.5,853.8C919.5,849.8 919.9,838.1 919.5,830.0C919.1,821.9 918.4,813.3 917.0,805.0C915.6,796.7 912.9,787.5 911.2,780.0C909.6,772.5 907.5,766.2 907.0,760.0C906.5,753.8 907.3,747.6 908.0,742.5C908.7,737.4 910.7,731.7 911.2,729.5Z" fill="#fff" stroke="#1c1c1c" stroke-width="1.3" stroke-linejoin="round"/>
<circle cx="930.0" cy="729.5" r="2.85" fill="#c2409b"/>
<circle cx="918.8" cy="738.2" r="2.85" fill="#3f9cc6"/>
<circle cx="925.0" cy="745.8" r="2.85" fill="#c2409b"/>
<circle cx="914.5" cy="760.8" r="2.85" fill="#c2409b"/>
<circle cx="926.8" cy="771.8" r="2.85" fill="#3f9cc6"/>
<circle cx="919.2" cy="793.2" r="2.85" fill="#c2409b"/>
<circle cx="922.5" cy="853.8" r="2.85" fill="#c2409b"/>
<path d="M907.0,770.2 H937.5" stroke="#8a8a8a" stroke-width="2.8"/>
<path d="M907.0,760.5 H937.5" stroke="#0a0a0a" stroke-width="3.1"/>
</g>
<g id="t4spike">
<path d="M995.5,774.2C995.4,776.9 994.2,784.9 995.0,790.0C995.8,795.1 998.1,800.4 1000.0,805.0C1001.9,809.6 1005.0,813.8 1006.2,817.5C1007.5,821.2 1007.6,823.8 1007.5,827.5C1007.4,831.2 1006.2,836.5 1005.5,840.0C1004.8,843.5 1003.6,846.9 1003.2,848.2L980.0,848.2C979.6,846.9 978.1,843.5 977.5,840.0C976.9,836.5 976.1,831.2 976.2,827.5C976.4,823.8 976.9,821.2 978.2,817.5C979.6,813.8 982.7,809.6 984.5,805.0C986.3,800.4 988.5,795.1 989.2,790.0C990.0,784.9 989.2,776.9 989.2,774.2Z" fill="#fff" stroke="#1c1c1c" stroke-width="1.3" stroke-linejoin="round"/>
<circle cx="992.0" cy="775.0" r="2.85" fill="#c2409b"/>
<circle cx="984.2" cy="811.2" r="2.85" fill="#3f9cc6"/>
<circle cx="1001.2" cy="815.5" r="2.85" fill="#c2409b"/>
<circle cx="988.8" cy="821.2" r="2.85" fill="#c2409b"/>
<circle cx="994.5" cy="822.0" r="2.85" fill="#c2409b"/>
<circle cx="986.2" cy="830.0" r="2.85" fill="#c2409b"/>
<circle cx="997.0" cy="842.0" r="2.85" fill="#c2409b"/>
<circle cx="985.8" cy="847.0" r="2.85" fill="#c2409b"/>
<circle cx="991.8" cy="848.2" r="2.85" fill="#c2409b"/>
<path d="M976.8,823.2 H1007.0" stroke="#8a8a8a" stroke-width="2.8"/>
<path d="M976.8,822.0 H1007.0" stroke="#0a0a0a" stroke-width="3.1"/>
<path d="M1034.5,805.8C1035.2,807.3 1037.8,811.0 1038.8,815.0C1039.8,819.0 1040.7,825.0 1040.5,830.0C1040.3,835.0 1038.8,840.0 1037.5,845.0C1036.2,850.0 1033.9,854.5 1033.0,860.0C1032.1,865.5 1032.2,875.0 1032.0,878.0L1018.2,878.0C1018.1,875.0 1018.2,865.5 1017.5,860.0C1016.8,854.5 1014.9,850.0 1013.8,845.0C1012.6,840.0 1010.8,835.0 1010.5,830.0C1010.2,825.0 1011.0,819.0 1012.0,815.0C1013.0,811.0 1015.5,807.3 1016.2,805.8Z" fill="#fff" stroke="#1c1c1c" stroke-width="1.3" stroke-linejoin="round"/>
<circle cx="1026.2" cy="805.8" r="2.85" fill="#9bc857"/>
<circle cx="1017.5" cy="815.0" r="2.85" fill="#c2409b"/>
<circle cx="1022.0" cy="825.5" r="2.85" fill="#c2409b"/>
<circle cx="1035.5" cy="823.0" r="2.85" fill="#3f9cc6"/>
<circle cx="1028.0" cy="831.8" r="2.85" fill="#3f9cc6"/>
<circle cx="1018.8" cy="841.2" r="2.85" fill="#3f9cc6"/>
<circle cx="1029.2" cy="848.0" r="2.85" fill="#c2409b"/>
<circle cx="1022.0" cy="868.0" r="2.85" fill="#3f9cc6"/>
<circle cx="1025.5" cy="878.0" r="2.85" fill="#c2409b"/>
<path d="M1010.5,837.5 H1040.5" stroke="#8a8a8a" stroke-width="2.8"/>
<path d="M1010.5,831.8 H1040.5" stroke="#0a0a0a" stroke-width="3.1"/>
<path d="M1061.2,842.0C1061.3,843.3 1061.5,846.6 1061.8,850.0C1062.0,853.4 1062.2,858.3 1062.5,862.5C1062.8,866.7 1062.5,871.5 1063.8,875.0C1065.0,878.5 1068.2,881.7 1070.0,883.8C1071.8,885.8 1073.7,886.1 1074.2,887.5C1074.8,888.9 1073.4,891.2 1073.2,892.0L1044.2,892.0C1044.1,891.2 1042.7,888.9 1043.2,887.5C1043.8,886.1 1045.6,885.8 1047.5,883.8C1049.4,881.7 1053.0,878.5 1054.5,875.0C1056.0,871.5 1056.0,866.7 1056.2,862.5C1056.5,858.3 1056.2,853.4 1056.2,850.0C1056.3,846.6 1056.7,843.3 1056.8,842.0Z" fill="#fff" stroke="#1c1c1c" stroke-width="1.3" stroke-linejoin="round"/>
<circle cx="1058.8" cy="842.5" r="2.85" fill="#3f9cc6"/>
<circle cx="1058.8" cy="845.5" r="2.85" fill="#c2409b"/>
<circle cx="1059.2" cy="849.2" r="2.85" fill="#c2409b"/>
<circle cx="1058.2" cy="853.0" r="2.85" fill="#9bc857"/>
<circle cx="1059.5" cy="867.5" r="2.85" fill="#c2409b"/>
<circle cx="1057.5" cy="871.2" r="2.85" fill="#9bc857"/>
<circle cx="1060.0" cy="877.0" r="2.85" fill="#c2409b"/>
<circle cx="1056.2" cy="878.8" r="2.85" fill="#3f9cc6"/>
<circle cx="1059.5" cy="884.2" r="2.85" fill="#9bc857"/>
<circle cx="1053.8" cy="883.8" r="2.85" fill="#c2409b"/>
<circle cx="1064.2" cy="883.0" r="2.85" fill="#c2409b"/>
<circle cx="1052.4" cy="889.9" r="2.85" fill="#c2409b"/>
<circle cx="1062.8" cy="889.8" r="2.85" fill="#c2409b"/>
<circle cx="1062.5" cy="888.2" r="2.85" fill="#c2409b"/>
<circle cx="1059.6" cy="888.2" r="2.85" fill="#c2409b"/>
<circle cx="1046.3" cy="887.9" r="2.85" fill="#c2409b"/>
<circle cx="1071.8" cy="890.4" r="2.85" fill="#c2409b"/>
<circle cx="1068.6" cy="890.3" r="2.85" fill="#c2409b"/>
<circle cx="1067.4" cy="890.1" r="2.85" fill="#c2409b"/>
<circle cx="1066.5" cy="888.4" r="2.85" fill="#c2409b"/>
<circle cx="1058.4" cy="890.1" r="2.85" fill="#c2409b"/>
<circle cx="1063.3" cy="890.6" r="2.85" fill="#c2409b"/>
<circle cx="1062.9" cy="888.7" r="2.85" fill="#c2409b"/>
<circle cx="1063.8" cy="889.4" r="2.85" fill="#c2409b"/>
<circle cx="1057.2" cy="890.1" r="2.85" fill="#c2409b"/>
<circle cx="1053.3" cy="888.1" r="2.85" fill="#c2409b"/>
<circle cx="1052.2" cy="889.1" r="2.85" fill="#c2409b"/>
<circle cx="1056.0" cy="888.0" r="2.85" fill="#c2409b"/>
<circle cx="1060.1" cy="889.5" r="2.85" fill="#c2409b"/>
<circle cx="1064.1" cy="888.0" r="2.85" fill="#c2409b"/>
<circle cx="1062.8" cy="890.8" r="2.85" fill="#c2409b"/>
<circle cx="1045.6" cy="889.0" r="2.85" fill="#c2409b"/>
<circle cx="1051.5" cy="889.2" r="2.85" fill="#c2409b"/>
<circle cx="1062.4" cy="888.1" r="2.85" fill="#c2409b"/>
<circle cx="1065.0" cy="888.4" r="2.85" fill="#c2409b"/>
<circle cx="1050.9" cy="890.5" r="2.85" fill="#c2409b"/>
<circle cx="1059.3" cy="889.8" r="2.85" fill="#c2409b"/>
<path d="M1043.8,879.5 H1073.8" stroke="#8a8a8a" stroke-width="2.8"/>
<path d="M1043.8,887.0 H1073.8" stroke="#0a0a0a" stroke-width="3.1"/>
<path d="M1098.0,852.0C1097.7,853.8 1095.9,858.7 1096.2,862.5C1096.6,866.3 1098.2,871.5 1100.0,875.0C1101.8,878.5 1105.7,881.5 1107.0,883.8C1108.3,886.0 1108.1,887.4 1108.0,888.8C1107.9,890.1 1106.5,891.2 1106.2,891.8L1078.8,891.8C1078.5,891.2 1077.6,890.1 1077.5,888.8C1077.4,887.4 1076.9,886.0 1078.2,883.8C1079.6,881.5 1083.8,878.5 1085.8,875.0C1087.7,871.5 1090.0,866.3 1090.0,862.5C1090.0,858.7 1086.5,853.8 1085.8,852.0Z" fill="#fff" stroke="#1c1c1c" stroke-width="1.3" stroke-linejoin="round"/>
<circle cx="1088.0" cy="852.5" r="2.85" fill="#3f9cc6"/>
<circle cx="1096.2" cy="855.5" r="2.85" fill="#c2409b"/>
<circle cx="1091.2" cy="879.5" r="2.85" fill="#c2409b"/>
<circle cx="1095.0" cy="882.0" r="2.85" fill="#9bc857"/>
<circle cx="1082.0" cy="888.8" r="2.85" fill="#c2409b"/>
<circle cx="1086.2" cy="889.5" r="2.85" fill="#c2409b"/>
<circle cx="1092.5" cy="891.2" r="2.85" fill="#c2409b"/>
<circle cx="1099.2" cy="889.2" r="2.85" fill="#c2409b"/>
<path d="M1077.5,878.8 H1108.0" stroke="#8a8a8a" stroke-width="2.8"/>
<path d="M1077.5,885.8 H1108.0" stroke="#0a0a0a" stroke-width="3.1"/>
<path d="M1129.2,770.0C1129.4,773.3 1129.0,783.3 1130.0,790.0C1131.0,796.7 1133.3,804.2 1135.0,810.0C1136.7,815.8 1139.0,820.0 1140.0,825.0C1141.0,830.0 1141.7,833.8 1141.2,840.0C1140.8,846.2 1138.6,855.8 1137.5,862.5C1136.4,869.2 1135.0,877.5 1134.5,880.5L1118.2,880.5C1117.7,877.5 1116.2,869.2 1115.0,862.5C1113.8,855.8 1111.8,846.2 1111.2,840.0C1110.8,833.8 1111.0,830.0 1112.0,825.0C1113.0,820.0 1115.2,815.8 1117.0,810.0C1118.8,804.2 1121.5,796.7 1122.5,790.0C1123.5,783.3 1123.1,773.3 1123.2,770.0Z" fill="#fff" stroke="#1c1c1c" stroke-width="1.3" stroke-linejoin="round"/>
<circle cx="1124.5" cy="770.0" r="2.85" fill="#3f9cc6"/>
<circle cx="1126.8" cy="813.8" r="2.85" fill="#9bc857"/>
<circle cx="1115.5" cy="824.5" r="2.85" fill="#3f9cc6"/>
<circle cx="1123.0" cy="830.0" r="2.85" fill="#3f9cc6"/>
<circle cx="1136.2" cy="829.5" r="2.85" fill="#3f9cc6"/>
<circle cx="1127.5" cy="839.2" r="2.85" fill="#c2409b"/>
<circle cx="1120.0" cy="846.8" r="2.85" fill="#3f9cc6"/>
<circle cx="1128.8" cy="862.5" r="2.85" fill="#c2409b"/>
<circle cx="1122.0" cy="874.5" r="2.85" fill="#3f9cc6"/>
<circle cx="1125.8" cy="880.8" r="2.85" fill="#c2409b"/>
<path d="M1111.2,837.0 H1141.2" stroke="#8a8a8a" stroke-width="2.8"/>
<path d="M1111.2,835.0 H1141.2" stroke="#0a0a0a" stroke-width="3.1"/>
<path d="M1162.0,777.5C1162.1,780.4 1161.8,788.8 1162.5,795.0C1163.2,801.2 1164.6,808.3 1166.2,815.0C1167.9,821.7 1170.9,828.3 1172.5,835.0C1174.1,841.7 1175.3,848.8 1175.8,855.0C1176.2,861.2 1176.0,867.6 1175.0,872.5C1174.0,877.4 1170.4,882.3 1169.5,884.2L1149.5,884.2C1148.8,882.3 1146.5,877.4 1145.5,872.5C1144.5,867.6 1143.4,861.2 1143.8,855.0C1144.1,848.8 1145.9,841.7 1147.5,835.0C1149.1,828.3 1151.7,821.7 1153.2,815.0C1154.8,808.3 1156.3,801.2 1157.0,795.0C1157.7,788.8 1157.4,780.4 1157.5,777.5Z" fill="#fff" stroke="#1c1c1c" stroke-width="1.3" stroke-linejoin="round"/>
<circle cx="1160.0" cy="777.5" r="2.85" fill="#9bc857"/>
<circle cx="1158.0" cy="801.8" r="2.85" fill="#c2409b"/>
<circle cx="1161.8" cy="820.0" r="2.85" fill="#c2409b"/>
<circle cx="1156.2" cy="828.0" r="2.85" fill="#c2409b"/>
<circle cx="1160.8" cy="830.0" r="2.85" fill="#c2409b"/>
<circle cx="1151.8" cy="834.2" r="2.85" fill="#9bc857"/>
<circle cx="1167.5" cy="835.0" r="2.85" fill="#c2409b"/>
<circle cx="1158.2" cy="843.0" r="2.85" fill="#c2409b"/>
<circle cx="1163.2" cy="846.8" r="2.85" fill="#c2409b"/>
<circle cx="1153.0" cy="849.2" r="2.85" fill="#c2409b"/>
<circle cx="1157.0" cy="853.8" r="2.85" fill="#c2409b"/>
<circle cx="1164.5" cy="852.0" r="2.85" fill="#c2409b"/>
<circle cx="1160.8" cy="862.5" r="2.85" fill="#c2409b"/>
<circle cx="1147.5" cy="867.5" r="2.85" fill="#c2409b"/>
<circle cx="1155.5" cy="871.2" r="2.85" fill="#c2409b"/>
<circle cx="1149.5" cy="872.0" r="2.85" fill="#c2409b"/>
<circle cx="1162.0" cy="871.2" r="2.85" fill="#c2409b"/>
<circle cx="1168.8" cy="870.0" r="2.85" fill="#c2409b"/>
<circle cx="1152.0" cy="876.2" r="2.85" fill="#c2409b"/>
<circle cx="1165.0" cy="878.8" r="2.85" fill="#c2409b"/>
<circle cx="1155.5" cy="883.0" r="2.85" fill="#c2409b"/>
<circle cx="1159.2" cy="884.2" r="2.85" fill="#c2409b"/>
<path d="M1144.5,849.5 H1175.0" stroke="#8a8a8a" stroke-width="2.8"/>
<path d="M1144.5,852.0 H1175.0" stroke="#0a0a0a" stroke-width="3.1"/>
<path d="M1207.0,815.5C1207.3,817.1 1208.5,820.1 1208.8,825.0C1209.0,829.9 1208.8,837.2 1208.2,845.0C1207.7,852.8 1206.0,867.3 1205.5,871.8L1181.2,871.8C1180.8,867.3 1179.2,852.8 1178.8,845.0C1178.2,837.2 1177.9,829.9 1178.2,825.0C1178.6,820.1 1180.3,817.1 1180.8,815.5Z" fill="#fff" stroke="#1c1c1c" stroke-width="1.3" stroke-linejoin="round"/>
<circle cx="1195.5" cy="815.5" r="2.85" fill="#9bc857"/>
<circle cx="1183.0" cy="829.5" r="2.85" fill="#c2409b"/>
<circle cx="1199.5" cy="835.5" r="2.85" fill="#3f9cc6"/>
<circle cx="1186.8" cy="869.5" r="2.85" fill="#3f9cc6"/>
<circle cx="1193.2" cy="871.8" r="2.85" fill="#c2409b"/>
<path d="M1178.2,844.2 H1208.2" stroke="#8a8a8a" stroke-width="2.8"/>
<path d="M1178.2,835.5 H1208.2" stroke="#0a0a0a" stroke-width="3.1"/>
<path d="M1240.0,838.8C1240.4,840.6 1242.3,845.6 1242.5,850.0C1242.7,854.4 1241.9,860.8 1241.2,865.0C1240.6,869.2 1239.2,873.8 1238.8,875.5L1215.0,875.5C1214.6,873.8 1213.0,869.2 1212.5,865.0C1212.0,860.8 1211.8,854.4 1212.0,850.0C1212.2,845.6 1213.5,840.6 1213.8,838.8Z" fill="#fff" stroke="#1c1c1c" stroke-width="1.3" stroke-linejoin="round"/>
<circle cx="1233.8" cy="838.8" r="2.85" fill="#c2409b"/>
<circle cx="1220.5" cy="856.8" r="2.85" fill="#3f9cc6"/>
<circle cx="1226.8" cy="875.5" r="2.85" fill="#c2409b"/>
<path d="M1212.0,856.8 H1242.5" stroke="#0a0a0a" stroke-width="3.1"/>
<path d="M1212.0,856.8 H1242.5" stroke="#8a8a8a" stroke-width="2.8"/>
</g>
<path d="M378,387 H478" stroke="#050505" stroke-width="3.3"/>
<text x="428.2" y="386.4" font-size="20" font-weight="bold" letter-spacing="2.4" text-anchor="middle" fill="#050505">****</text>
<path d="M378,402.8 H452" stroke="#050505" stroke-width="3.3"/>
<text x="415.2" y="404.4" font-size="20" font-weight="bold" letter-spacing="2.4" text-anchor="middle" fill="#050505">***</text>
<path d="M413.8,418 H478" stroke="#050505" stroke-width="3.3"/>
<text x="445.0" y="420.4" font-size="20" font-weight="bold" letter-spacing="2.4" text-anchor="middle" fill="#050505">***</text>
<path d="M478.8,441.5 H545.8" stroke="#050505" stroke-width="3.3"/>
<text x="511.7" y="441.4" font-size="20" font-weight="bold" letter-spacing="2.4" text-anchor="middle" fill="#050505">***</text>
<path d="M723,327.5 H762.5" stroke="#050505" stroke-width="3.3"/>
<text x="743.7" y="326.9" font-size="20" font-weight="bold" letter-spacing="2.4" text-anchor="middle" fill="#050505">**</text>
<path d="M755.5,314.5 H855" stroke="#050505" stroke-width="3.3"/>
<text x="805.2" y="316.4" font-size="20" font-weight="bold" letter-spacing="2.4" text-anchor="middle" fill="#050505">**</text>
<path d="M989,436 H1089" stroke="#050505" stroke-width="3.3"/>
<text x="1034.2" y="436.4" font-size="20" font-weight="bold" letter-spacing="2.4" text-anchor="middle" fill="#050505">**</text>
<path d="M989,453 H1063" stroke="#050505" stroke-width="3.3"/>
<text x="1026.7" y="454.9" font-size="20" font-weight="bold" letter-spacing="2.4" text-anchor="middle" fill="#050505">****</text>
<path d="M1027.5,469.5 H1059.5" stroke="#050505" stroke-width="3.3"/>
<text x="1042.2" y="471.9" font-size="20" font-weight="bold" letter-spacing="2.4" text-anchor="middle" fill="#050505">*</text>
<path d="M1060.5,423.8 H1161" stroke="#050505" stroke-width="3.3"/>
<text x="1110.2" y="423.4" font-size="20" font-weight="bold" letter-spacing="2.4" text-anchor="middle" fill="#050505">***</text>
<path d="M378,690 H478.8" stroke="#050505" stroke-width="3.3"/>
<text x="428.7" y="689.9" font-size="20" font-weight="bold" letter-spacing="2.4" text-anchor="middle" fill="#050505">****</text>
<path d="M378,708.5 H452.5" stroke="#050505" stroke-width="3.3"/>
<text x="416.2" y="707.4" font-size="20" font-weight="bold" letter-spacing="2.4" text-anchor="middle" fill="#050505">****</text>
<path d="M413.8,726.8 H478.8" stroke="#050505" stroke-width="3.3"/>
<text x="450.2" y="728.1999999999999" font-size="20" font-weight="bold" letter-spacing="2.4" text-anchor="middle" fill="#050505">**</text>
<path d="M483,737.5 H551" stroke="#050505" stroke-width="3.3"/>
<text x="519.2" y="736.9" font-size="20" font-weight="bold" letter-spacing="2.4" text-anchor="middle" fill="#050505">**</text>
<path d="M681,669 H755" stroke="#050505" stroke-width="3.3"/>
<text x="718.7" y="670.1999999999999" font-size="20" font-weight="bold" letter-spacing="2.4" text-anchor="middle" fill="#050505">*</text>
<path d="M717,684 H755" stroke="#050505" stroke-width="3.3"/>
<text x="736.2" y="687.4" font-size="20" font-weight="bold" letter-spacing="2.4" text-anchor="middle" fill="#050505">*</text>
<path d="M755.8,658 H856" stroke="#050505" stroke-width="3.3"/>
<text x="805.2" y="658.4" font-size="20" font-weight="bold" letter-spacing="2.4" text-anchor="middle" fill="#050505">**</text>
<path d="M1064,718 H1165.8" stroke="#050505" stroke-width="3.3"/>
<text x="1121.7" y="718.1999999999999" font-size="20" font-weight="bold" letter-spacing="2.4" text-anchor="middle" fill="#050505">***</text>
<path d="M984.5,735 H1084" stroke="#050505" stroke-width="3.3"/>
<text x="1038.0" y="736.4" font-size="20" font-weight="bold" letter-spacing="2.4" text-anchor="middle" fill="#050505">**</text>
<path d="M989,756 H1063" stroke="#050505" stroke-width="3.3"/>
<text x="1027.0" y="759.4" font-size="20" font-weight="bold" letter-spacing="2.4" text-anchor="middle" fill="#050505">****</text>
<path d="M1019,781.5 H1063" stroke="#050505" stroke-width="3.3"/>
<text x="1041.2" y="784.4" font-size="20" font-weight="bold" letter-spacing="2.4" text-anchor="middle" fill="#050505">*</text>
</g>
</svg>
</body></html>
